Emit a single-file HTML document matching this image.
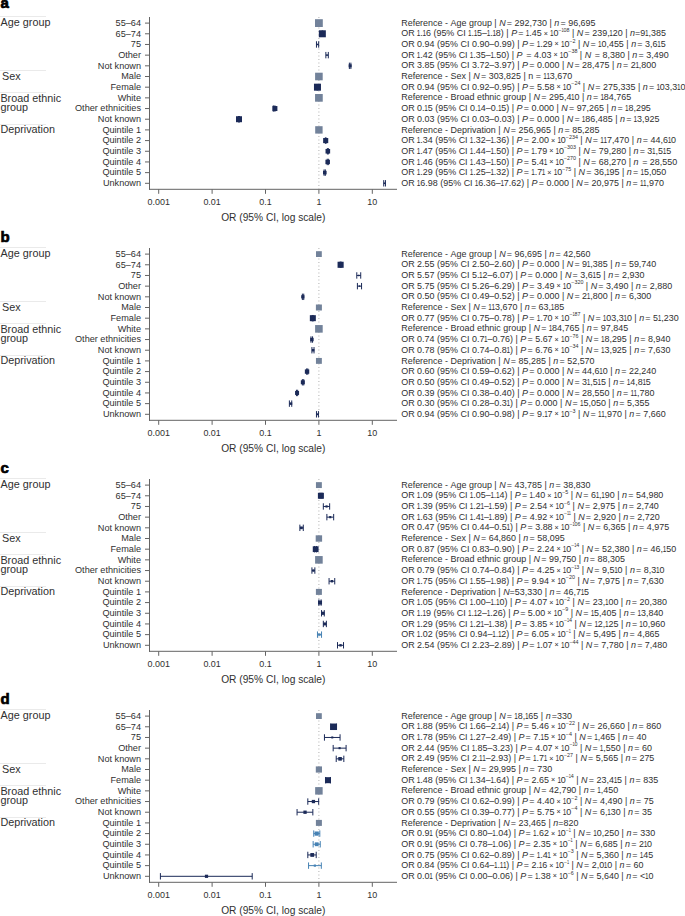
<!DOCTYPE html>
<html><head><meta charset="utf-8"><style>
html,body{margin:0;padding:0;background:#fff;}
svg{display:block;}
text{font-family:"Liberation Sans",sans-serif;white-space:pre;}
</style></head><body>
<svg width="685" height="916" viewBox="0 0 685 916">
<rect width="685" height="916" fill="#fff"/>
<g transform="translate(0,0)">
<text x="0.6" y="7.6" font-size="15" font-weight="bold" fill="#000" stroke="#000" stroke-width="0.7">a</text>
<rect x="0" y="16.15" width="46" height="0.7" fill="#e2e2e2"/>
<text transform="translate(0.6,26.1) scale(1.06,1)" font-size="10.2" fill="#303030">Age group</text>
<rect x="0" y="70.15" width="46" height="0.7" fill="#e2e2e2"/>
<text transform="translate(2.0,79.6) scale(1.06,1)" font-size="10.2" fill="#303030">Sex</text>
<rect x="0" y="92.05000000000001" width="46" height="0.7" fill="#e2e2e2"/>
<text transform="translate(0.4,101.6) scale(1.06,1)" font-size="10.2" fill="#303030">Broad ethnic</text>
<text transform="translate(0.4,111.0) scale(1.06,1)" font-size="10.2" fill="#303030">group</text>
<rect x="0" y="124.05000000000001" width="46" height="0.7" fill="#e2e2e2"/>
<text transform="translate(0.4,133.4) scale(1.06,1)" font-size="10.2" fill="#303030">Deprivation</text>
<rect x="149.0" y="17.0" width="1" height="172.8" fill="#646464"/>
<rect x="149.0" y="188.8" width="248.0" height="1" fill="#646464"/>
<line x1="318.9" y1="17.0" x2="318.9" y2="189.3" stroke="#b0b0b0" stroke-width="1" stroke-dasharray="1 2.5"/>
<rect x="158.2" y="189.3" width="1" height="4.5" fill="#646464"/>
<text transform="translate(158.70,204.7) scale(1.03,1)" font-size="8.7" text-anchor="middle" fill="#303030">0.001</text>
<rect x="211.59999999999997" y="189.3" width="1" height="4.5" fill="#646464"/>
<text transform="translate(212.10,204.7) scale(1.03,1)" font-size="8.7" text-anchor="middle" fill="#303030">0.01</text>
<rect x="265.0" y="189.3" width="1" height="4.5" fill="#646464"/>
<text transform="translate(265.50,204.7) scale(1.03,1)" font-size="8.7" text-anchor="middle" fill="#303030">0.1</text>
<rect x="318.4" y="189.3" width="1" height="4.5" fill="#646464"/>
<text transform="translate(318.90,204.7) scale(1.03,1)" font-size="8.7" text-anchor="middle" fill="#303030">1</text>
<rect x="371.79999999999995" y="189.3" width="1" height="4.5" fill="#646464"/>
<text transform="translate(372.30,204.7) scale(1.03,1)" font-size="8.7" text-anchor="middle" fill="#303030">10</text>
<text x="273.25" y="221.1" font-size="10.2" text-anchor="middle" fill="#303030">OR (95% CI, log scale)</text>
<rect x="145.0" y="22.60" width="4" height="1" fill="#646464"/>
<text transform="translate(141.0,25.90) scale(1.09,1)" font-size="8.4" text-anchor="end" fill="#303030">55–64</text>
<text transform="translate(0,25.70) scale(1.093,1)" x="367.06 372.98 377.55 379.82 384.38 387.11 391.68 396.24 400.34 404.90 407.17 409.90 412.18 417.65 422.21 426.77 429.05 433.61 436.34 440.90 445.46 450.02 452.30 454.43" font-size="8.2" fill="#303030">Reference - Age group | </text>
<text transform="translate(0,25.70) scale(1.093,1)" x="456.71" font-size="8.2" font-style="italic" fill="#303030">N</text>
<text transform="translate(0,25.70) scale(1.093,1)" x="461.44 463.72 468.51 470.79 475.35 479.91 484.47 486.75 491.31 495.87 500.43 502.71 504.84" font-size="8.2" fill="#303030"> = 292,730 | </text>
<text transform="translate(0,25.70) scale(1.093,1)" x="507.12" font-size="8.2" font-style="italic" fill="#303030">n</text>
<text transform="translate(0,25.70) scale(1.093,1)" x="510.49 512.76 517.55 519.83 524.39 528.95 531.23 535.79 540.35" font-size="8.2" fill="#303030"> = 96,695</text>
<rect x="315.00" y="19.20" width="7.8" height="7.8" fill="#72829a"/>
<rect x="145.0" y="33.28" width="4" height="1" fill="#646464"/>
<text transform="translate(141.0,36.58) scale(1.09,1)" font-size="8.4" text-anchor="end" fill="#303030">65–74</text>
<text transform="translate(0,36.38) scale(1.093,1)" x="367.06 373.44 379.36 384.53 389.70 394.26 396.54 399.27 403.83 408.39 415.68 417.96 423.88 426.16 431.33 436.50 441.06 448.51 453.68 458.24 460.97 463.25 465.38" font-size="8.2" fill="#303030">OR .6 (95% CI .5–.8) | </text>
<text transform="translate(0,36.38) scale(1.093,1)" x="467.66" font-size="8.2" font-style="italic" fill="#303030">P</text>
<text transform="translate(0,36.38) scale(1.093,1)" x="471.94 474.22 479.01 484.18 486.45 491.01 495.57 501.27 506.44" font-size="8.2" fill="#303030"> = .45  0</text>
<text transform="translate(0,31.98) scale(1.093,1)" x="511.00 515.59 518.31" font-size="4.9" fill="#303030">−08</text>
<text transform="translate(0,36.38) scale(1.093,1)" x="521.04 523.32 525.45" font-size="8.2" fill="#303030"> | </text>
<text transform="translate(0,36.38) scale(1.093,1)" x="527.72" font-size="8.2" font-style="italic" fill="#303030">N</text>
<text transform="translate(0,36.38) scale(1.093,1)" x="532.46 534.74 539.52 541.80 546.36 550.92 555.48 560.65 565.21 569.77 572.05 574.18" font-size="8.2" fill="#303030"> = 239,20 | </text>
<text transform="translate(0,36.38) scale(1.093,1)" x="576.46" font-size="8.2" font-style="italic" fill="#303030">n</text>
<text transform="translate(0,36.38) scale(1.093,1)" x="581.02 585.81 593.26 595.54 600.10 604.66" font-size="8.2" fill="#303030">=9,385</text>
<text transform="translate(416.84,36.38) scale(0.787,1)" font-size="8.2" fill="#303030">1</text>
<text transform="translate(422.49,36.38) scale(0.787,1)" font-size="8.2" fill="#303030">1</text>
<text transform="translate(467.99,36.38) scale(0.787,1)" font-size="8.2" fill="#303030">1</text>
<text transform="translate(473.64,36.38) scale(0.787,1)" font-size="8.2" fill="#303030">1</text>
<text transform="translate(486.77,36.38) scale(0.787,1)" font-size="8.2" fill="#303030">1</text>
<text transform="translate(492.42,36.38) scale(0.787,1)" font-size="8.2" fill="#303030">1</text>
<text transform="translate(525.75,36.38) scale(0.787,1)" font-size="8.2" fill="#303030">1</text>
<text transform="translate(543.68,35.78) scale(1.093,1)" font-size="6.56" fill="#303030">×</text>
<text transform="translate(550.09,36.38) scale(0.787,1)" font-size="8.2" fill="#303030">1</text>
<text transform="translate(561.48,31.98) scale(0.787,1)" font-size="4.9" fill="#303030">1</text>
<text transform="translate(609.34,36.38) scale(0.787,1)" font-size="8.2" fill="#303030">1</text>
<text transform="translate(644.98,36.38) scale(0.787,1)" font-size="8.2" fill="#303030">1</text>
<rect x="322.14" y="33.28" width="0.60" height="1.0" fill="#1b2a58"/>
<rect x="321.64" y="30.58" width="1" height="6.4" fill="#1b2a58"/>
<rect x="322.24" y="30.58" width="1" height="6.4" fill="#1b2a58"/>
<rect x="318.84" y="30.28" width="7.0" height="7.0" fill="#1b2a58"/>
<rect x="145.0" y="43.96" width="4" height="1" fill="#646464"/>
<text transform="translate(141.0,47.26) scale(1.09,1)" font-size="8.4" text-anchor="end" fill="#303030">75</text>
<text transform="translate(0,47.06) scale(1.093,1)" x="367.06 373.44 379.36 381.64 386.20 388.48 393.04 397.60 399.88 402.61 407.17 411.73 419.02 421.30 427.22 429.50 431.78 436.34 438.62 443.18 447.74 452.30 456.86 459.14 463.70 468.26 470.99 473.27 475.40" font-size="8.2" fill="#303030">OR 0.94 (95% CI 0.90–0.99) | </text>
<text transform="translate(0,47.06) scale(1.093,1)" x="477.68" font-size="8.2" font-style="italic" fill="#303030">P</text>
<text transform="translate(0,47.06) scale(1.093,1)" x="481.95 484.23 489.02 494.19 496.47 501.03 505.59 511.28 516.45" font-size="8.2" fill="#303030"> = .29  0</text>
<text transform="translate(0,42.66) scale(1.093,1)" x="521.01 523.88" font-size="4.9" fill="#303030">−2</text>
<text transform="translate(0,47.06) scale(1.093,1)" x="526.60 528.88 531.01" font-size="8.2" fill="#303030"> | </text>
<text transform="translate(0,47.06) scale(1.093,1)" x="533.29" font-size="8.2" font-style="italic" fill="#303030">N</text>
<text transform="translate(0,47.06) scale(1.093,1)" x="538.02 540.30 545.09 550.26 554.82 557.10 561.66 566.22 570.78 573.05 575.18" font-size="8.2" fill="#303030"> = 0,455 | </text>
<text transform="translate(0,47.06) scale(1.093,1)" x="577.46" font-size="8.2" font-style="italic" fill="#303030">n</text>
<text transform="translate(0,47.06) scale(1.093,1)" x="580.83 583.11 587.90 590.18 594.74 597.02 604.47" font-size="8.2" fill="#303030"> = 3,65</text>
<text transform="translate(536.70,47.06) scale(0.787,1)" font-size="8.2" fill="#303030">1</text>
<text transform="translate(554.62,46.46) scale(1.093,1)" font-size="6.56" fill="#303030">×</text>
<text transform="translate(561.03,47.06) scale(0.787,1)" font-size="8.2" fill="#303030">1</text>
<text transform="translate(597.98,47.06) scale(0.787,1)" font-size="8.2" fill="#303030">1</text>
<text transform="translate(657.23,47.06) scale(0.787,1)" font-size="8.2" fill="#303030">1</text>
<rect x="316.46" y="43.96" width="2.21" height="1.0" fill="#1b2a58"/>
<rect x="315.96" y="41.26" width="1" height="6.4" fill="#1b2a58"/>
<rect x="318.17" y="41.26" width="1" height="6.4" fill="#1b2a58"/>
<rect x="316.72" y="43.71" width="1.5" height="1.5" fill="#1b2a58"/>
<rect x="145.0" y="54.64" width="4" height="1" fill="#646464"/>
<text transform="translate(141.0,57.94) scale(1.09,1)" font-size="8.4" text-anchor="end" fill="#303030">Other</text>
<text transform="translate(0,57.74) scale(1.093,1)" x="367.06 373.44 379.36 384.53 386.81 391.37 395.93 398.21 400.94 405.50 410.06 417.35 419.63 425.55 427.83 433.00 435.28 439.84 444.40 451.85 454.13 458.69 463.25 465.98 468.26 470.39" font-size="8.2" fill="#303030">OR .42 (95% CI .35–.50) | </text>
<text transform="translate(0,57.74) scale(1.093,1)" x="472.67" font-size="8.2" font-style="italic" fill="#303030">P</text>
<text transform="translate(0,57.74) scale(1.093,1)" x="476.95 479.23 481.50 486.29 488.57 493.13 495.41 499.97 504.53 510.22 515.39" font-size="8.2" fill="#303030">  = 4.03  0</text>
<text transform="translate(0,53.34) scale(1.093,1)" x="519.95 522.82 525.54" font-size="4.9" fill="#303030">−38</text>
<text transform="translate(0,57.74) scale(1.093,1)" x="528.27 530.54 532.67" font-size="8.2" fill="#303030"> | </text>
<text transform="translate(0,57.74) scale(1.093,1)" x="534.95" font-size="8.2" font-style="italic" fill="#303030">N</text>
<text transform="translate(0,57.74) scale(1.093,1)" x="539.68 541.96 544.24 549.03 551.31 555.87 558.15 562.71 567.27 571.83 574.11 576.24" font-size="8.2" fill="#303030">  = 8,380 | </text>
<text transform="translate(0,57.74) scale(1.093,1)" x="578.51" font-size="8.2" font-style="italic" fill="#303030">n</text>
<text transform="translate(0,57.74) scale(1.093,1)" x="581.89 584.16 588.95 591.23 595.79 598.07 602.63 607.19" font-size="8.2" fill="#303030"> = 3,490</text>
<text transform="translate(416.84,57.74) scale(0.787,1)" font-size="8.2" fill="#303030">1</text>
<text transform="translate(469.82,57.74) scale(0.787,1)" font-size="8.2" fill="#303030">1</text>
<text transform="translate(490.42,57.74) scale(0.787,1)" font-size="8.2" fill="#303030">1</text>
<text transform="translate(553.46,57.14) scale(1.093,1)" font-size="6.56" fill="#303030">×</text>
<text transform="translate(559.87,57.74) scale(0.787,1)" font-size="8.2" fill="#303030">1</text>
<rect x="325.86" y="54.64" width="2.44" height="1.0" fill="#1b2a58"/>
<rect x="325.36" y="51.94" width="1" height="6.4" fill="#1b2a58"/>
<rect x="327.80" y="51.94" width="1" height="6.4" fill="#1b2a58"/>
<rect x="326.28" y="54.39" width="1.5" height="1.5" fill="#1b2a58"/>
<rect x="145.0" y="65.32" width="4" height="1" fill="#646464"/>
<text transform="translate(141.0,68.62) scale(1.09,1)" font-size="8.4" text-anchor="end" fill="#303030">Not known</text>
<text transform="translate(0,68.42) scale(1.093,1)" x="367.06 373.44 379.36 381.64 386.20 388.48 393.04 397.60 399.88 402.61 407.17 411.73 419.02 421.30 427.22 429.50 431.78 436.34 438.62 443.18 447.74 452.30 456.86 459.14 463.70 468.26 470.99 473.27 475.40" font-size="8.2" fill="#303030">OR 3.85 (95% CI 3.72–3.97) | </text>
<text transform="translate(0,68.42) scale(1.093,1)" x="477.68" font-size="8.2" font-style="italic" fill="#303030">P</text>
<text transform="translate(0,68.42) scale(1.093,1)" x="481.95 484.23 489.02 491.30 495.86 498.14 502.70 507.26 511.82 514.10 516.23" font-size="8.2" fill="#303030"> = 0.000 | </text>
<text transform="translate(0,68.42) scale(1.093,1)" x="518.51" font-size="8.2" font-style="italic" fill="#303030">N</text>
<text transform="translate(0,68.42) scale(1.093,1)" x="523.24 525.52 530.31 532.58 537.14 541.71 543.98 548.54 553.10 557.66 559.94 562.07" font-size="8.2" fill="#303030"> = 28,475 | </text>
<text transform="translate(0,68.42) scale(1.093,1)" x="564.35" font-size="8.2" font-style="italic" fill="#303030">n</text>
<text transform="translate(0,68.42) scale(1.093,1)" x="567.72 570.00 574.79 577.07 584.52 586.80 591.36 595.92" font-size="8.2" fill="#303030"> = 2,800</text>
<text transform="translate(635.43,68.42) scale(0.787,1)" font-size="8.2" fill="#303030">1</text>
<rect x="349.37" y="65.32" width="1.51" height="1.0" fill="#1b2a58"/>
<rect x="348.87" y="62.62" width="1" height="6.4" fill="#1b2a58"/>
<rect x="350.38" y="62.62" width="1" height="6.4" fill="#1b2a58"/>
<rect x="348.66" y="64.32" width="3.0" height="3.0" fill="#1b2a58"/>
<rect x="145.0" y="76.00" width="4" height="1" fill="#646464"/>
<text transform="translate(141.0,79.30) scale(1.09,1)" font-size="8.4" text-anchor="end" fill="#303030">Male</text>
<text transform="translate(0,79.10) scale(1.093,1)" x="367.06 372.98 377.55 379.82 384.38 387.11 391.68 396.24 400.34 404.90 407.17 409.90 412.18 417.65 422.21 426.31 428.59 430.72" font-size="8.2" fill="#303030">Reference - Sex | </text>
<text transform="translate(0,79.10) scale(1.093,1)" x="433.00" font-size="8.2" font-style="italic" fill="#303030">N</text>
<text transform="translate(0,79.10) scale(1.093,1)" x="437.73 440.01 444.80 447.08 451.64 456.20 460.76 463.04 467.60 472.16 476.72 479.00 481.13 483.40 487.96 490.24 495.03 503.09 507.65 509.93 514.49 519.05" font-size="8.2" fill="#303030"> = 303,825 | n = 3,670</text>
<text transform="translate(543.27,79.10) scale(0.787,1)" font-size="8.2" fill="#303030">1</text>
<text transform="translate(546.43,79.10) scale(0.787,1)" font-size="8.2" fill="#303030">1</text>
<rect x="315.10" y="72.70" width="7.6" height="7.6" fill="#72829a"/>
<rect x="145.0" y="86.68" width="4" height="1" fill="#646464"/>
<text transform="translate(141.0,89.98) scale(1.09,1)" font-size="8.4" text-anchor="end" fill="#303030">Female</text>
<text transform="translate(0,89.78) scale(1.093,1)" x="367.06 373.44 379.36 381.64 386.20 388.48 393.04 397.60 399.88 402.61 407.17 411.73 419.02 421.30 427.22 429.50 431.78 436.34 438.62 443.18 447.74 452.30 456.86 459.14 463.70 468.26 470.99 473.27 475.40" font-size="8.2" fill="#303030">OR 0.94 (95% CI 0.92–0.95) | </text>
<text transform="translate(0,89.78) scale(1.093,1)" x="477.68" font-size="8.2" font-style="italic" fill="#303030">P</text>
<text transform="translate(0,89.78) scale(1.093,1)" x="481.95 484.23 489.02 491.30 495.86 498.14 502.70 507.26 512.95 518.12" font-size="8.2" fill="#303030"> = 5.58  0</text>
<text transform="translate(0,85.38) scale(1.093,1)" x="522.68 525.55 528.27" font-size="4.9" fill="#303030">−24</text>
<text transform="translate(0,89.78) scale(1.093,1)" x="531.00 533.27 535.40" font-size="8.2" fill="#303030"> | </text>
<text transform="translate(0,89.78) scale(1.093,1)" x="537.68" font-size="8.2" font-style="italic" fill="#303030">N</text>
<text transform="translate(0,89.78) scale(1.093,1)" x="542.41 544.69 549.48 551.76 556.32 560.88 565.44 567.72 572.28 576.84 581.40 583.68 585.81" font-size="8.2" fill="#303030"> = 275,335 | </text>
<text transform="translate(0,89.78) scale(1.093,1)" x="588.09" font-size="8.2" font-style="italic" fill="#303030">n</text>
<text transform="translate(0,89.78) scale(1.093,1)" x="591.46 593.74 598.53 603.69 608.26 612.82 615.09 622.55" font-size="8.2" fill="#303030"> = 03,30</text>
<text transform="translate(556.45,89.18) scale(1.093,1)" font-size="6.56" fill="#303030">×</text>
<text transform="translate(562.86,89.78) scale(0.787,1)" font-size="8.2" fill="#303030">1</text>
<text transform="translate(656.39,89.78) scale(0.787,1)" font-size="8.2" fill="#303030">1</text>
<text transform="translate(676.99,89.78) scale(0.787,1)" font-size="8.2" fill="#303030">1</text>
<rect x="316.97" y="86.68" width="0.74" height="1.0" fill="#1b2a58"/>
<rect x="316.47" y="83.98" width="1" height="6.4" fill="#1b2a58"/>
<rect x="317.21" y="83.98" width="1" height="6.4" fill="#1b2a58"/>
<rect x="313.97" y="83.68" width="7.0" height="7.0" fill="#1b2a58"/>
<rect x="145.0" y="97.36" width="4" height="1" fill="#646464"/>
<text transform="translate(141.0,100.66) scale(1.09,1)" font-size="8.4" text-anchor="end" fill="#303030">White</text>
<text transform="translate(0,100.46) scale(1.093,1)" x="367.06 372.98 377.55 379.82 384.38 387.11 391.68 396.24 400.34 404.90 407.17 409.90 412.18 417.65 420.38 424.94 429.50 434.06 436.34 440.90 443.18 447.74 452.30 454.12 458.22 460.50 465.06 467.79 472.35 476.91 481.47 483.75 485.88" font-size="8.2" fill="#303030">Reference - Broad ethnic group | </text>
<text transform="translate(0,100.46) scale(1.093,1)" x="488.16" font-size="8.2" font-style="italic" fill="#303030">N</text>
<text transform="translate(0,100.46) scale(1.093,1)" x="492.89 495.17 499.96 502.24 506.80 511.36 515.92 518.20 525.65 530.21 532.49 534.62" font-size="8.2" fill="#303030"> = 295,40 | </text>
<text transform="translate(0,100.46) scale(1.093,1)" x="536.90" font-size="8.2" font-style="italic" fill="#303030">n</text>
<text transform="translate(0,100.46) scale(1.093,1)" x="540.27 542.55 547.33 552.50 557.06 561.63 563.90 568.46 573.02" font-size="8.2" fill="#303030"> = 84,765</text>
<text transform="translate(571.08,100.46) scale(0.787,1)" font-size="8.2" fill="#303030">1</text>
<text transform="translate(600.44,100.46) scale(0.787,1)" font-size="8.2" fill="#303030">1</text>
<rect x="315.05" y="94.01" width="7.7" height="7.7" fill="#72829a"/>
<rect x="145.0" y="108.04" width="4" height="1" fill="#646464"/>
<text transform="translate(141.0,111.34) scale(1.09,1)" font-size="8.4" text-anchor="end" fill="#303030">Other ethnicities</text>
<text transform="translate(0,111.14) scale(1.093,1)" x="367.06 373.44 379.36 381.64 386.20 391.37 395.93 398.21 400.94 405.50 410.06 417.35 419.63 425.55 427.83 430.11 434.67 439.84 444.40 448.96 453.52 458.69 463.25 465.98 468.26 470.39" font-size="8.2" fill="#303030">OR 0.5 (95% CI 0.4–0.5) | </text>
<text transform="translate(0,111.14) scale(1.093,1)" x="472.67" font-size="8.2" font-style="italic" fill="#303030">P</text>
<text transform="translate(0,111.14) scale(1.093,1)" x="476.95 479.23 484.01 486.29 490.85 493.13 497.69 502.25 506.81 509.09 511.22" font-size="8.2" fill="#303030"> = 0.000 | </text>
<text transform="translate(0,111.14) scale(1.093,1)" x="513.50" font-size="8.2" font-style="italic" fill="#303030">N</text>
<text transform="translate(0,111.14) scale(1.093,1)" x="518.23 520.51 525.30 527.58 532.14 536.70 538.98 543.54 548.10 552.66 554.93 557.06" font-size="8.2" fill="#303030"> = 97,265 | </text>
<text transform="translate(0,111.14) scale(1.093,1)" x="559.34" font-size="8.2" font-style="italic" fill="#303030">n</text>
<text transform="translate(0,111.14) scale(1.093,1)" x="562.71 564.99 569.78 574.95 579.51 581.79 586.35 590.91" font-size="8.2" fill="#303030"> = 8,295</text>
<text transform="translate(424.32,111.14) scale(0.787,1)" font-size="8.2" fill="#303030">1</text>
<text transform="translate(477.29,111.14) scale(0.787,1)" font-size="8.2" fill="#303030">1</text>
<text transform="translate(497.90,111.14) scale(0.787,1)" font-size="8.2" fill="#303030">1</text>
<text transform="translate(624.97,111.14) scale(0.787,1)" font-size="8.2" fill="#303030">1</text>
<rect x="273.30" y="108.04" width="1.60" height="1.0" fill="#1b2a58"/>
<rect x="272.80" y="105.34" width="1" height="6.4" fill="#1b2a58"/>
<rect x="274.40" y="105.34" width="1" height="6.4" fill="#1b2a58"/>
<rect x="272.40" y="106.04" width="5.0" height="5.0" fill="#1b2a58"/>
<rect x="145.0" y="118.72" width="4" height="1" fill="#646464"/>
<text transform="translate(141.0,122.02) scale(1.09,1)" font-size="8.4" text-anchor="end" fill="#303030">Not known</text>
<text transform="translate(0,121.82) scale(1.093,1)" x="367.06 373.44 379.36 381.64 386.20 388.48 393.04 397.60 399.88 402.61 407.17 411.73 419.02 421.30 427.22 429.50 431.78 436.34 438.62 443.18 447.74 452.30 456.86 459.14 463.70 468.26 470.99 473.27 475.40" font-size="8.2" fill="#303030">OR 0.03 (95% CI 0.03–0.03) | </text>
<text transform="translate(0,121.82) scale(1.093,1)" x="477.68" font-size="8.2" font-style="italic" fill="#303030">P</text>
<text transform="translate(0,121.82) scale(1.093,1)" x="481.95 484.23 489.02 491.30 495.86 498.14 502.70 507.26 511.82 514.10 516.23" font-size="8.2" fill="#303030"> = 0.000 | </text>
<text transform="translate(0,121.82) scale(1.093,1)" x="518.51" font-size="8.2" font-style="italic" fill="#303030">N</text>
<text transform="translate(0,121.82) scale(1.093,1)" x="523.24 525.52 530.31 535.48 540.04 544.60 546.87 551.43 556.00 560.56 562.83 564.96" font-size="8.2" fill="#303030"> = 86,485 | </text>
<text transform="translate(0,121.82) scale(1.093,1)" x="567.24" font-size="8.2" font-style="italic" fill="#303030">n</text>
<text transform="translate(0,121.82) scale(1.093,1)" x="570.61 572.89 577.68 582.85 587.41 589.69 594.25 598.81" font-size="8.2" fill="#303030"> = 3,925</text>
<text transform="translate(581.82,121.82) scale(0.787,1)" font-size="8.2" fill="#303030">1</text>
<text transform="translate(633.60,121.82) scale(0.787,1)" font-size="8.2" fill="#303030">1</text>
<rect x="238.50" y="118.72" width="1.00" height="1.0" fill="#1b2a58"/>
<rect x="238.00" y="116.02" width="1" height="6.4" fill="#1b2a58"/>
<rect x="239.00" y="116.02" width="1" height="6.4" fill="#1b2a58"/>
<rect x="236.00" y="116.22" width="6.0" height="6.0" fill="#1b2a58"/>
<rect x="145.0" y="129.40" width="4" height="1" fill="#646464"/>
<text transform="translate(141.0,132.70) scale(1.09,1)" font-size="8.4" text-anchor="end" fill="#303030">Quintile 1</text>
<text transform="translate(0,132.50) scale(1.093,1)" x="367.06 372.98 377.55 379.82 384.38 387.11 391.68 396.24 400.34 404.90 407.17 409.90 412.18 418.10 422.67 427.23 429.96 431.78 435.88 440.44 442.72 444.54 449.10 453.66 455.94 458.07" font-size="8.2" fill="#303030">Reference - Deprivation | </text>
<text transform="translate(0,132.50) scale(1.093,1)" x="460.35" font-size="8.2" font-style="italic" fill="#303030">N</text>
<text transform="translate(0,132.50) scale(1.093,1)" x="465.08 467.36 472.15 474.42 478.98 483.54 488.10 490.38 494.94 499.50 504.06 506.34 508.47" font-size="8.2" fill="#303030"> = 256,965 | </text>
<text transform="translate(0,132.50) scale(1.093,1)" x="510.75" font-size="8.2" font-style="italic" fill="#303030">n</text>
<text transform="translate(0,132.50) scale(1.093,1)" x="514.12 516.40 521.19 523.47 528.03 532.59 534.87 539.43 543.99" font-size="8.2" fill="#303030"> = 85,285</text>
<rect x="315.20" y="126.20" width="7.4" height="7.4" fill="#72829a"/>
<rect x="145.0" y="140.08" width="4" height="1" fill="#646464"/>
<text transform="translate(141.0,143.38) scale(1.09,1)" font-size="8.4" text-anchor="end" fill="#303030">Quintile 2</text>
<text transform="translate(0,143.18) scale(1.093,1)" x="367.06 373.44 379.36 384.53 386.81 391.37 395.93 398.21 400.94 405.50 410.06 417.35 419.63 425.55 427.83 433.00 435.28 439.84 444.40 451.85 454.13 458.69 463.25 465.98 468.26 470.39" font-size="8.2" fill="#303030">OR .34 (95% CI .32–.36) | </text>
<text transform="translate(0,143.18) scale(1.093,1)" x="472.67" font-size="8.2" font-style="italic" fill="#303030">P</text>
<text transform="translate(0,143.18) scale(1.093,1)" x="476.95 479.23 484.01 486.29 490.85 493.13 497.69 502.25 507.95 513.12" font-size="8.2" fill="#303030"> = 2.00  0</text>
<text transform="translate(0,138.78) scale(1.093,1)" x="517.68 520.54 523.26 525.99" font-size="4.9" fill="#303030">−234</text>
<text transform="translate(0,143.18) scale(1.093,1)" x="528.71 530.99 533.12" font-size="8.2" fill="#303030"> | </text>
<text transform="translate(0,143.18) scale(1.093,1)" x="535.40" font-size="8.2" font-style="italic" fill="#303030">N</text>
<text transform="translate(0,143.18) scale(1.093,1)" x="540.13 542.41 547.20 555.26 559.82 562.10 566.66 571.22 575.78 578.06 580.19" font-size="8.2" fill="#303030"> = 7,470 | </text>
<text transform="translate(0,143.18) scale(1.093,1)" x="582.47" font-size="8.2" font-style="italic" fill="#303030">n</text>
<text transform="translate(0,143.18) scale(1.093,1)" x="585.84 588.12 592.90 595.18 599.74 604.30 606.58 614.03" font-size="8.2" fill="#303030"> = 44,60</text>
<text transform="translate(416.84,143.18) scale(0.787,1)" font-size="8.2" fill="#303030">1</text>
<text transform="translate(469.82,143.18) scale(0.787,1)" font-size="8.2" fill="#303030">1</text>
<text transform="translate(490.42,143.18) scale(0.787,1)" font-size="8.2" fill="#303030">1</text>
<text transform="translate(550.97,142.58) scale(1.093,1)" font-size="6.56" fill="#303030">×</text>
<text transform="translate(557.38,143.18) scale(0.787,1)" font-size="8.2" fill="#303030">1</text>
<text transform="translate(600.29,143.18) scale(0.787,1)" font-size="8.2" fill="#303030">1</text>
<text transform="translate(603.45,143.18) scale(0.787,1)" font-size="8.2" fill="#303030">1</text>
<text transform="translate(667.69,143.18) scale(0.787,1)" font-size="8.2" fill="#303030">1</text>
<rect x="325.34" y="140.08" width="0.69" height="1.0" fill="#1b2a58"/>
<rect x="324.84" y="137.38" width="1" height="6.4" fill="#1b2a58"/>
<rect x="325.53" y="137.38" width="1" height="6.4" fill="#1b2a58"/>
<rect x="323.14" y="138.03" width="5.1" height="5.1" fill="#1b2a58"/>
<rect x="145.0" y="150.76" width="4" height="1" fill="#646464"/>
<text transform="translate(141.0,154.06) scale(1.09,1)" font-size="8.4" text-anchor="end" fill="#303030">Quintile 3</text>
<text transform="translate(0,153.86) scale(1.093,1)" x="367.06 373.44 379.36 384.53 386.81 391.37 395.93 398.21 400.94 405.50 410.06 417.35 419.63 425.55 427.83 433.00 435.28 439.84 444.40 451.85 454.13 458.69 463.25 465.98 468.26 470.39" font-size="8.2" fill="#303030">OR .47 (95% CI .44–.50) | </text>
<text transform="translate(0,153.86) scale(1.093,1)" x="472.67" font-size="8.2" font-style="italic" fill="#303030">P</text>
<text transform="translate(0,153.86) scale(1.093,1)" x="476.95 479.23 484.01 489.18 491.46 496.02 500.58 506.28 511.45" font-size="8.2" fill="#303030"> = .79  0</text>
<text transform="translate(0,149.46) scale(1.093,1)" x="516.01 518.87 521.59 524.32" font-size="4.9" fill="#303030">−303</text>
<text transform="translate(0,153.86) scale(1.093,1)" x="527.04 529.32 531.45" font-size="8.2" fill="#303030"> | </text>
<text transform="translate(0,153.86) scale(1.093,1)" x="533.73" font-size="8.2" font-style="italic" fill="#303030">N</text>
<text transform="translate(0,153.86) scale(1.093,1)" x="538.46 540.74 545.53 547.81 552.37 556.93 559.21 563.77 568.33 572.89 575.17 577.30" font-size="8.2" fill="#303030"> = 79,280 | </text>
<text transform="translate(0,153.86) scale(1.093,1)" x="579.57" font-size="8.2" font-style="italic" fill="#303030">n</text>
<text transform="translate(0,153.86) scale(1.093,1)" x="582.95 585.22 590.01 592.29 599.74 602.02 609.47" font-size="8.2" fill="#303030"> = 3,55</text>
<text transform="translate(416.84,153.86) scale(0.787,1)" font-size="8.2" fill="#303030">1</text>
<text transform="translate(469.82,153.86) scale(0.787,1)" font-size="8.2" fill="#303030">1</text>
<text transform="translate(490.42,153.86) scale(0.787,1)" font-size="8.2" fill="#303030">1</text>
<text transform="translate(531.23,153.86) scale(0.787,1)" font-size="8.2" fill="#303030">1</text>
<text transform="translate(549.15,153.26) scale(1.093,1)" font-size="6.56" fill="#303030">×</text>
<text transform="translate(555.56,153.86) scale(0.787,1)" font-size="8.2" fill="#303030">1</text>
<text transform="translate(652.07,153.86) scale(0.787,1)" font-size="8.2" fill="#303030">1</text>
<text transform="translate(662.70,153.86) scale(0.787,1)" font-size="8.2" fill="#303030">1</text>
<rect x="327.36" y="150.76" width="0.95" height="1.0" fill="#1b2a58"/>
<rect x="326.86" y="148.06" width="1" height="6.4" fill="#1b2a58"/>
<rect x="327.80" y="148.06" width="1" height="6.4" fill="#1b2a58"/>
<rect x="325.53" y="148.96" width="4.6" height="4.6" fill="#1b2a58"/>
<rect x="145.0" y="161.44" width="4" height="1" fill="#646464"/>
<text transform="translate(141.0,164.74) scale(1.09,1)" font-size="8.4" text-anchor="end" fill="#303030">Quintile 4</text>
<text transform="translate(0,164.54) scale(1.093,1)" x="367.06 373.44 379.36 384.53 386.81 391.37 395.93 398.21 400.94 405.50 410.06 417.35 419.63 425.55 427.83 433.00 435.28 439.84 444.40 451.85 454.13 458.69 463.25 465.98 468.26 470.39" font-size="8.2" fill="#303030">OR .46 (95% CI .43–.50) | </text>
<text transform="translate(0,164.54) scale(1.093,1)" x="472.67" font-size="8.2" font-style="italic" fill="#303030">P</text>
<text transform="translate(0,164.54) scale(1.093,1)" x="476.95 479.23 484.01 486.29 490.85 493.13 500.58 506.28 511.45" font-size="8.2" fill="#303030"> = 5.4  0</text>
<text transform="translate(0,160.14) scale(1.093,1)" x="516.01 518.87 521.59 524.32" font-size="4.9" fill="#303030">−270</text>
<text transform="translate(0,164.54) scale(1.093,1)" x="527.04 529.32 531.45" font-size="8.2" fill="#303030"> | </text>
<text transform="translate(0,164.54) scale(1.093,1)" x="533.73" font-size="8.2" font-style="italic" fill="#303030">N</text>
<text transform="translate(0,164.54) scale(1.093,1)" x="538.46 540.74 545.53 547.81 552.37 556.93 559.21 563.77 568.33 572.89 575.17 577.30" font-size="8.2" fill="#303030"> = 68,270 | </text>
<text transform="translate(0,164.54) scale(1.093,1)" x="579.57" font-size="8.2" font-style="italic" fill="#303030">n</text>
<text transform="translate(0,164.54) scale(1.093,1)" x="582.95 585.22 587.50 592.29 594.57 599.13 603.69 605.97 610.53 615.09" font-size="8.2" fill="#303030">  = 28,550</text>
<text transform="translate(416.84,164.54) scale(0.787,1)" font-size="8.2" fill="#303030">1</text>
<text transform="translate(469.82,164.54) scale(0.787,1)" font-size="8.2" fill="#303030">1</text>
<text transform="translate(490.42,164.54) scale(0.787,1)" font-size="8.2" fill="#303030">1</text>
<text transform="translate(543.69,164.54) scale(0.787,1)" font-size="8.2" fill="#303030">1</text>
<text transform="translate(549.15,163.94) scale(1.093,1)" font-size="6.56" fill="#303030">×</text>
<text transform="translate(555.56,164.54) scale(0.787,1)" font-size="8.2" fill="#303030">1</text>
<rect x="327.19" y="161.44" width="1.11" height="1.0" fill="#1b2a58"/>
<rect x="326.69" y="158.74" width="1" height="6.4" fill="#1b2a58"/>
<rect x="327.80" y="158.74" width="1" height="6.4" fill="#1b2a58"/>
<rect x="325.43" y="159.69" width="4.5" height="4.5" fill="#1b2a58"/>
<rect x="145.0" y="172.12" width="4" height="1" fill="#646464"/>
<text transform="translate(141.0,175.42) scale(1.09,1)" font-size="8.4" text-anchor="end" fill="#303030">Quintile 5</text>
<text transform="translate(0,175.22) scale(1.093,1)" x="367.06 373.44 379.36 384.53 386.81 391.37 395.93 398.21 400.94 405.50 410.06 417.35 419.63 425.55 427.83 433.00 435.28 439.84 444.40 451.85 454.13 458.69 463.25 465.98 468.26 470.39" font-size="8.2" fill="#303030">OR .29 (95% CI .25–.32) | </text>
<text transform="translate(0,175.22) scale(1.093,1)" x="472.67" font-size="8.2" font-style="italic" fill="#303030">P</text>
<text transform="translate(0,175.22) scale(1.093,1)" x="476.95 479.23 484.01 489.18 491.46 498.91 504.61 509.78" font-size="8.2" fill="#303030"> = .7  0</text>
<text transform="translate(0,170.82) scale(1.093,1)" x="514.34 517.20 519.92" font-size="4.9" fill="#303030">−75</text>
<text transform="translate(0,175.22) scale(1.093,1)" x="522.65 524.93 527.06" font-size="8.2" fill="#303030"> | </text>
<text transform="translate(0,175.22) scale(1.093,1)" x="529.34" font-size="8.2" font-style="italic" fill="#303030">N</text>
<text transform="translate(0,175.22) scale(1.093,1)" x="534.07 536.35 541.14 543.41 547.97 552.53 557.70 562.26 566.82 569.10 571.23" font-size="8.2" fill="#303030"> = 36,95 | </text>
<text transform="translate(0,175.22) scale(1.093,1)" x="573.51" font-size="8.2" font-style="italic" fill="#303030">n</text>
<text transform="translate(0,175.22) scale(1.093,1)" x="576.88 579.16 583.95 589.12 593.68 595.96 600.52 605.08" font-size="8.2" fill="#303030"> = 5,050</text>
<text transform="translate(416.84,175.22) scale(0.787,1)" font-size="8.2" fill="#303030">1</text>
<text transform="translate(469.82,175.22) scale(0.787,1)" font-size="8.2" fill="#303030">1</text>
<text transform="translate(490.42,175.22) scale(0.787,1)" font-size="8.2" fill="#303030">1</text>
<text transform="translate(531.23,175.22) scale(0.787,1)" font-size="8.2" fill="#303030">1</text>
<text transform="translate(541.86,175.22) scale(0.787,1)" font-size="8.2" fill="#303030">1</text>
<text transform="translate(547.33,174.62) scale(1.093,1)" font-size="6.56" fill="#303030">×</text>
<text transform="translate(553.73,175.22) scale(0.787,1)" font-size="8.2" fill="#303030">1</text>
<text transform="translate(606.12,175.22) scale(0.787,1)" font-size="8.2" fill="#303030">1</text>
<text transform="translate(640.45,175.22) scale(0.787,1)" font-size="8.2" fill="#303030">1</text>
<rect x="324.07" y="172.12" width="1.26" height="1.0" fill="#1b2a58"/>
<rect x="323.57" y="169.42" width="1" height="6.4" fill="#1b2a58"/>
<rect x="324.84" y="169.42" width="1" height="6.4" fill="#1b2a58"/>
<rect x="323.01" y="170.82" width="3.6" height="3.6" fill="#1b2a58"/>
<rect x="145.0" y="182.80" width="4" height="1" fill="#646464"/>
<text transform="translate(141.0,186.10) scale(1.09,1)" font-size="8.4" text-anchor="end" fill="#303030">Unknown</text>
<text transform="translate(0,185.90) scale(1.093,1)" x="367.06 373.44 379.36 384.53 389.09 391.37 395.93 400.49 402.77 405.50 410.06 414.62 421.91 424.19 430.11 432.39 437.56 442.12 444.40 448.96 453.52 460.97 465.53 467.81 472.37 476.93 479.66 481.94 484.07" font-size="8.2" fill="#303030">OR 6.98 (95% CI 6.36–7.62) | </text>
<text transform="translate(0,185.90) scale(1.093,1)" x="486.35" font-size="8.2" font-style="italic" fill="#303030">P</text>
<text transform="translate(0,185.90) scale(1.093,1)" x="490.63 492.91 497.70 499.97 504.53 506.81 511.37 515.93 520.49 522.77 524.90" font-size="8.2" fill="#303030"> = 0.000 | </text>
<text transform="translate(0,185.90) scale(1.093,1)" x="527.18" font-size="8.2" font-style="italic" fill="#303030">N</text>
<text transform="translate(0,185.90) scale(1.093,1)" x="531.91 534.19 538.98 541.26 545.82 550.38 552.66 557.22 561.78 566.34 568.62 570.75" font-size="8.2" fill="#303030"> = 20,975 | </text>
<text transform="translate(0,185.90) scale(1.093,1)" x="573.02" font-size="8.2" font-style="italic" fill="#303030">n</text>
<text transform="translate(0,185.90) scale(1.093,1)" x="576.40 578.67 583.46 591.52 593.80 598.36 602.92" font-size="8.2" fill="#303030"> = ,970</text>
<text transform="translate(416.84,185.90) scale(0.787,1)" font-size="8.2" fill="#303030">1</text>
<text transform="translate(474.80,185.90) scale(0.787,1)" font-size="8.2" fill="#303030">1</text>
<text transform="translate(500.39,185.90) scale(0.787,1)" font-size="8.2" fill="#303030">1</text>
<text transform="translate(639.92,185.90) scale(0.787,1)" font-size="8.2" fill="#303030">1</text>
<text transform="translate(643.08,185.90) scale(0.787,1)" font-size="8.2" fill="#303030">1</text>
<rect x="383.72" y="182.80" width="1.72" height="1.0" fill="#1b2a58"/>
<rect x="383.22" y="180.10" width="1" height="6.4" fill="#1b2a58"/>
<rect x="384.94" y="180.10" width="1" height="6.4" fill="#1b2a58"/>
<rect x="383.83" y="182.55" width="1.5" height="1.5" fill="#1b2a58"/>
</g>
<g transform="translate(0,231)">
<text x="0.6" y="11.2" font-size="15" font-weight="bold" fill="#000" stroke="#000" stroke-width="0.7">b</text>
<rect x="0" y="16.15" width="46" height="0.7" fill="#e2e2e2"/>
<text transform="translate(0.6,26.1) scale(1.06,1)" font-size="10.2" fill="#303030">Age group</text>
<rect x="0" y="70.15" width="46" height="0.7" fill="#e2e2e2"/>
<text transform="translate(2.0,79.6) scale(1.06,1)" font-size="10.2" fill="#303030">Sex</text>
<rect x="0" y="92.05000000000001" width="46" height="0.7" fill="#e2e2e2"/>
<text transform="translate(0.4,101.6) scale(1.06,1)" font-size="10.2" fill="#303030">Broad ethnic</text>
<text transform="translate(0.4,111.0) scale(1.06,1)" font-size="10.2" fill="#303030">group</text>
<rect x="0" y="124.05000000000001" width="46" height="0.7" fill="#e2e2e2"/>
<text transform="translate(0.4,133.4) scale(1.06,1)" font-size="10.2" fill="#303030">Deprivation</text>
<rect x="149.0" y="17.0" width="1" height="172.8" fill="#646464"/>
<rect x="149.0" y="188.8" width="248.0" height="1" fill="#646464"/>
<line x1="318.9" y1="17.0" x2="318.9" y2="189.3" stroke="#b0b0b0" stroke-width="1" stroke-dasharray="1 2.5"/>
<rect x="158.2" y="189.3" width="1" height="4.5" fill="#646464"/>
<text transform="translate(158.70,204.7) scale(1.03,1)" font-size="8.7" text-anchor="middle" fill="#303030">0.001</text>
<rect x="211.59999999999997" y="189.3" width="1" height="4.5" fill="#646464"/>
<text transform="translate(212.10,204.7) scale(1.03,1)" font-size="8.7" text-anchor="middle" fill="#303030">0.01</text>
<rect x="265.0" y="189.3" width="1" height="4.5" fill="#646464"/>
<text transform="translate(265.50,204.7) scale(1.03,1)" font-size="8.7" text-anchor="middle" fill="#303030">0.1</text>
<rect x="318.4" y="189.3" width="1" height="4.5" fill="#646464"/>
<text transform="translate(318.90,204.7) scale(1.03,1)" font-size="8.7" text-anchor="middle" fill="#303030">1</text>
<rect x="371.79999999999995" y="189.3" width="1" height="4.5" fill="#646464"/>
<text transform="translate(372.30,204.7) scale(1.03,1)" font-size="8.7" text-anchor="middle" fill="#303030">10</text>
<text x="273.25" y="221.1" font-size="10.2" text-anchor="middle" fill="#303030">OR (95% CI, log scale)</text>
<rect x="145.0" y="22.60" width="4" height="1" fill="#646464"/>
<text transform="translate(141.0,25.90) scale(1.09,1)" font-size="8.4" text-anchor="end" fill="#303030">55–64</text>
<text transform="translate(0,25.70) scale(1.093,1)" x="367.06 372.98 377.55 379.82 384.38 387.11 391.68 396.24 400.34 404.90 407.17 409.90 412.18 417.65 422.21 426.77 429.05 433.61 436.34 440.90 445.46 450.02 452.30 454.43" font-size="8.2" fill="#303030">Reference - Age group | </text>
<text transform="translate(0,25.70) scale(1.093,1)" x="456.71" font-size="8.2" font-style="italic" fill="#303030">N</text>
<text transform="translate(0,25.70) scale(1.093,1)" x="461.44 463.72 468.51 470.79 475.35 479.91 482.19 486.75 491.31 495.87 498.15 500.28" font-size="8.2" fill="#303030"> = 96,695 | </text>
<text transform="translate(0,25.70) scale(1.093,1)" x="502.56" font-size="8.2" font-style="italic" fill="#303030">n</text>
<text transform="translate(0,25.70) scale(1.093,1)" x="505.93 508.20 512.99 515.27 519.83 524.39 526.67 531.23 535.79" font-size="8.2" fill="#303030"> = 42,560</text>
<rect x="316.00" y="20.20" width="5.8" height="5.8" fill="#72829a"/>
<rect x="145.0" y="33.28" width="4" height="1" fill="#646464"/>
<text transform="translate(141.0,36.58) scale(1.09,1)" font-size="8.4" text-anchor="end" fill="#303030">65–74</text>
<text transform="translate(0,36.38) scale(1.093,1)" x="367.06 373.44 379.36 381.64 386.20 388.48 393.04 397.60 399.88 402.61 407.17 411.73 419.02 421.30 427.22 429.50 431.78 436.34 438.62 443.18 447.74 452.30 456.86 459.14 463.70 468.26 470.99 473.27 475.40" font-size="8.2" fill="#303030">OR 2.55 (95% CI 2.50–2.60) | </text>
<text transform="translate(0,36.38) scale(1.093,1)" x="477.68" font-size="8.2" font-style="italic" fill="#303030">P</text>
<text transform="translate(0,36.38) scale(1.093,1)" x="481.95 484.23 489.02 491.30 495.86 498.14 502.70 507.26 511.82 514.10 516.23" font-size="8.2" fill="#303030"> = 0.000 | </text>
<text transform="translate(0,36.38) scale(1.093,1)" x="518.51" font-size="8.2" font-style="italic" fill="#303030">N</text>
<text transform="translate(0,36.38) scale(1.093,1)" x="523.24 525.52 530.31 532.58 540.04 542.31 546.87 551.43 556.00 558.27 560.40" font-size="8.2" fill="#303030"> = 9,385 | </text>
<text transform="translate(0,36.38) scale(1.093,1)" x="562.68" font-size="8.2" font-style="italic" fill="#303030">n</text>
<text transform="translate(0,36.38) scale(1.093,1)" x="566.05 568.33 573.12 575.40 579.96 584.52 586.80 591.36 595.92" font-size="8.2" fill="#303030"> = 59,740</text>
<text transform="translate(586.81,36.38) scale(0.787,1)" font-size="8.2" fill="#303030">1</text>
<rect x="340.15" y="33.28" width="0.91" height="1.0" fill="#1b2a58"/>
<rect x="339.65" y="30.58" width="1" height="6.4" fill="#1b2a58"/>
<rect x="340.56" y="30.58" width="1" height="6.4" fill="#1b2a58"/>
<rect x="337.56" y="30.73" width="6.1" height="6.1" fill="#1b2a58"/>
<rect x="145.0" y="43.96" width="4" height="1" fill="#646464"/>
<text transform="translate(141.0,47.26) scale(1.09,1)" font-size="8.4" text-anchor="end" fill="#303030">75</text>
<text transform="translate(0,47.06) scale(1.093,1)" x="367.06 373.44 379.36 381.64 386.20 388.48 393.04 397.60 399.88 402.61 407.17 411.73 419.02 421.30 427.22 429.50 431.78 436.34 441.51 446.07 450.63 455.19 457.47 462.03 466.59 469.32 471.60 473.73" font-size="8.2" fill="#303030">OR 5.57 (95% CI 5.2–6.07) | </text>
<text transform="translate(0,47.06) scale(1.093,1)" x="476.01" font-size="8.2" font-style="italic" fill="#303030">P</text>
<text transform="translate(0,47.06) scale(1.093,1)" x="480.29 482.56 487.35 489.63 494.19 496.47 501.03 505.59 510.15 512.43 514.56" font-size="8.2" fill="#303030"> = 0.000 | </text>
<text transform="translate(0,47.06) scale(1.093,1)" x="516.84" font-size="8.2" font-style="italic" fill="#303030">N</text>
<text transform="translate(0,47.06) scale(1.093,1)" x="521.57 523.85 528.64 530.91 535.48 537.75 545.21 549.77 552.04 554.17" font-size="8.2" fill="#303030"> = 3,65 | </text>
<text transform="translate(0,47.06) scale(1.093,1)" x="556.45" font-size="8.2" font-style="italic" fill="#303030">n</text>
<text transform="translate(0,47.06) scale(1.093,1)" x="559.82 562.10 566.89 569.17 573.73 576.01 580.57 585.13" font-size="8.2" fill="#303030"> = 2,930</text>
<text transform="translate(479.12,47.06) scale(0.787,1)" font-size="8.2" fill="#303030">1</text>
<text transform="translate(592.46,47.06) scale(0.787,1)" font-size="8.2" fill="#303030">1</text>
<rect x="356.78" y="43.96" width="3.95" height="1.0" fill="#1b2a58"/>
<rect x="356.28" y="41.26" width="1" height="6.4" fill="#1b2a58"/>
<rect x="360.22" y="41.26" width="1" height="6.4" fill="#1b2a58"/>
<rect x="357.98" y="43.71" width="1.5" height="1.5" fill="#1b2a58"/>
<rect x="145.0" y="54.64" width="4" height="1" fill="#646464"/>
<text transform="translate(141.0,57.94) scale(1.09,1)" font-size="8.4" text-anchor="end" fill="#303030">Other</text>
<text transform="translate(0,57.74) scale(1.093,1)" x="367.06 373.44 379.36 381.64 386.20 388.48 393.04 397.60 399.88 402.61 407.17 411.73 419.02 421.30 427.22 429.50 431.78 436.34 438.62 443.18 447.74 452.30 456.86 459.14 463.70 468.26 470.99 473.27 475.40" font-size="8.2" fill="#303030">OR 5.75 (95% CI 5.26–6.29) | </text>
<text transform="translate(0,57.74) scale(1.093,1)" x="477.68" font-size="8.2" font-style="italic" fill="#303030">P</text>
<text transform="translate(0,57.74) scale(1.093,1)" x="481.95 484.23 489.02 491.30 495.86 498.14 502.70 507.26 512.95 518.12" font-size="8.2" fill="#303030"> = 3.49  0</text>
<text transform="translate(0,53.34) scale(1.093,1)" x="522.68 525.55 528.27 531.00" font-size="4.9" fill="#303030">−320</text>
<text transform="translate(0,57.74) scale(1.093,1)" x="533.72 536.00 538.13" font-size="8.2" fill="#303030"> | </text>
<text transform="translate(0,57.74) scale(1.093,1)" x="540.41" font-size="8.2" font-style="italic" fill="#303030">N</text>
<text transform="translate(0,57.74) scale(1.093,1)" x="545.14 547.42 552.21 554.48 559.05 561.32 565.88 570.44 575.01 577.28 579.41" font-size="8.2" fill="#303030"> = 3,490 | </text>
<text transform="translate(0,57.74) scale(1.093,1)" x="581.69" font-size="8.2" font-style="italic" fill="#303030">n</text>
<text transform="translate(0,57.74) scale(1.093,1)" x="585.06 587.34 592.13 594.41 598.97 601.25 605.81 610.37" font-size="8.2" fill="#303030"> = 2,880</text>
<text transform="translate(556.45,57.14) scale(1.093,1)" font-size="6.56" fill="#303030">×</text>
<text transform="translate(562.86,57.74) scale(0.787,1)" font-size="8.2" fill="#303030">1</text>
<rect x="357.40" y="54.64" width="4.15" height="1.0" fill="#1b2a58"/>
<rect x="356.90" y="51.94" width="1" height="6.4" fill="#1b2a58"/>
<rect x="361.05" y="51.94" width="1" height="6.4" fill="#1b2a58"/>
<rect x="358.72" y="54.39" width="1.5" height="1.5" fill="#1b2a58"/>
<rect x="145.0" y="65.32" width="4" height="1" fill="#646464"/>
<text transform="translate(141.0,68.62) scale(1.09,1)" font-size="8.4" text-anchor="end" fill="#303030">Not known</text>
<text transform="translate(0,68.42) scale(1.093,1)" x="367.06 373.44 379.36 381.64 386.20 388.48 393.04 397.60 399.88 402.61 407.17 411.73 419.02 421.30 427.22 429.50 431.78 436.34 438.62 443.18 447.74 452.30 456.86 459.14 463.70 468.26 470.99 473.27 475.40" font-size="8.2" fill="#303030">OR 0.50 (95% CI 0.49–0.52) | </text>
<text transform="translate(0,68.42) scale(1.093,1)" x="477.68" font-size="8.2" font-style="italic" fill="#303030">P</text>
<text transform="translate(0,68.42) scale(1.093,1)" x="481.95 484.23 489.02 491.30 495.86 498.14 502.70 507.26 511.82 514.10 516.23" font-size="8.2" fill="#303030"> = 0.000 | </text>
<text transform="translate(0,68.42) scale(1.093,1)" x="518.51" font-size="8.2" font-style="italic" fill="#303030">N</text>
<text transform="translate(0,68.42) scale(1.093,1)" x="523.24 525.52 530.31 532.58 540.04 542.31 546.87 551.43 556.00 558.27 560.40" font-size="8.2" fill="#303030"> = 2,800 | </text>
<text transform="translate(0,68.42) scale(1.093,1)" x="562.68" font-size="8.2" font-style="italic" fill="#303030">n</text>
<text transform="translate(0,68.42) scale(1.093,1)" x="566.05 568.33 573.12 575.40 579.96 582.24 586.80 591.36" font-size="8.2" fill="#303030"> = 6,300</text>
<text transform="translate(586.81,68.42) scale(0.787,1)" font-size="8.2" fill="#303030">1</text>
<rect x="302.36" y="65.32" width="1.38" height="1.0" fill="#1b2a58"/>
<rect x="301.86" y="62.62" width="1" height="6.4" fill="#1b2a58"/>
<rect x="303.23" y="62.62" width="1" height="6.4" fill="#1b2a58"/>
<rect x="301.22" y="64.22" width="3.2" height="3.2" fill="#1b2a58"/>
<rect x="145.0" y="76.00" width="4" height="1" fill="#646464"/>
<text transform="translate(141.0,79.30) scale(1.09,1)" font-size="8.4" text-anchor="end" fill="#303030">Male</text>
<text transform="translate(0,79.10) scale(1.093,1)" x="367.06 372.98 377.55 379.82 384.38 387.11 391.68 396.24 400.34 404.90 407.17 409.90 412.18 417.65 422.21 426.31 428.59 430.72" font-size="8.2" fill="#303030">Reference - Sex | </text>
<text transform="translate(0,79.10) scale(1.093,1)" x="433.00" font-size="8.2" font-style="italic" fill="#303030">N</text>
<text transform="translate(0,79.10) scale(1.093,1)" x="437.73 440.01 444.80 452.86 457.42 459.70 464.26 468.82 473.38 475.66 477.79" font-size="8.2" fill="#303030"> = 3,670 | </text>
<text transform="translate(0,79.10) scale(1.093,1)" x="480.07" font-size="8.2" font-style="italic" fill="#303030">n</text>
<text transform="translate(0,79.10) scale(1.093,1)" x="483.44 485.72 490.50 492.78 497.34 501.90 507.07 511.63" font-size="8.2" fill="#303030"> = 63,85</text>
<text transform="translate(488.36,79.10) scale(0.787,1)" font-size="8.2" fill="#303030">1</text>
<text transform="translate(491.52,79.10) scale(0.787,1)" font-size="8.2" fill="#303030">1</text>
<text transform="translate(550.78,79.10) scale(0.787,1)" font-size="8.2" fill="#303030">1</text>
<rect x="315.90" y="73.50" width="6.0" height="6.0" fill="#72829a"/>
<rect x="145.0" y="86.68" width="4" height="1" fill="#646464"/>
<text transform="translate(141.0,89.98) scale(1.09,1)" font-size="8.4" text-anchor="end" fill="#303030">Female</text>
<text transform="translate(0,89.78) scale(1.093,1)" x="367.06 373.44 379.36 381.64 386.20 388.48 393.04 397.60 399.88 402.61 407.17 411.73 419.02 421.30 427.22 429.50 431.78 436.34 438.62 443.18 447.74 452.30 456.86 459.14 463.70 468.26 470.99 473.27 475.40" font-size="8.2" fill="#303030">OR 0.77 (95% CI 0.75–0.78) | </text>
<text transform="translate(0,89.78) scale(1.093,1)" x="477.68" font-size="8.2" font-style="italic" fill="#303030">P</text>
<text transform="translate(0,89.78) scale(1.093,1)" x="481.95 484.23 489.02 494.19 496.47 501.03 505.59 511.28 516.45" font-size="8.2" fill="#303030"> = .70  0</text>
<text transform="translate(0,85.38) scale(1.093,1)" x="521.01 525.60 528.33" font-size="4.9" fill="#303030">−87</text>
<text transform="translate(0,89.78) scale(1.093,1)" x="531.05 533.33 535.46" font-size="8.2" fill="#303030"> | </text>
<text transform="translate(0,89.78) scale(1.093,1)" x="537.74" font-size="8.2" font-style="italic" fill="#303030">N</text>
<text transform="translate(0,89.78) scale(1.093,1)" x="542.47 544.75 549.54 554.71 559.27 563.83 566.11 573.56 578.12 580.40 582.53" font-size="8.2" fill="#303030"> = 03,30 | </text>
<text transform="translate(0,89.78) scale(1.093,1)" x="584.81" font-size="8.2" font-style="italic" fill="#303030">n</text>
<text transform="translate(0,89.78) scale(1.093,1)" x="588.18 590.46 595.24 597.52 604.97 607.25 611.81 616.37" font-size="8.2" fill="#303030"> = 5,230</text>
<text transform="translate(536.70,89.78) scale(0.787,1)" font-size="8.2" fill="#303030">1</text>
<text transform="translate(554.62,89.18) scale(1.093,1)" font-size="6.56" fill="#303030">×</text>
<text transform="translate(561.03,89.78) scale(0.787,1)" font-size="8.2" fill="#303030">1</text>
<text transform="translate(572.42,85.38) scale(0.787,1)" font-size="4.9" fill="#303030">1</text>
<text transform="translate(602.85,89.78) scale(0.787,1)" font-size="8.2" fill="#303030">1</text>
<text transform="translate(623.45,89.78) scale(0.787,1)" font-size="8.2" fill="#303030">1</text>
<text transform="translate(657.79,89.78) scale(0.787,1)" font-size="8.2" fill="#303030">1</text>
<rect x="312.23" y="86.68" width="0.91" height="1.0" fill="#1b2a58"/>
<rect x="311.73" y="83.98" width="1" height="6.4" fill="#1b2a58"/>
<rect x="312.64" y="83.98" width="1" height="6.4" fill="#1b2a58"/>
<rect x="309.84" y="84.18" width="6.0" height="6.0" fill="#1b2a58"/>
<rect x="145.0" y="97.36" width="4" height="1" fill="#646464"/>
<text transform="translate(141.0,100.66) scale(1.09,1)" font-size="8.4" text-anchor="end" fill="#303030">White</text>
<text transform="translate(0,100.46) scale(1.093,1)" x="367.06 372.98 377.55 379.82 384.38 387.11 391.68 396.24 400.34 404.90 407.17 409.90 412.18 417.65 420.38 424.94 429.50 434.06 436.34 440.90 443.18 447.74 452.30 454.12 458.22 460.50 465.06 467.79 472.35 476.91 481.47 483.75 485.88" font-size="8.2" fill="#303030">Reference - Broad ethnic group | </text>
<text transform="translate(0,100.46) scale(1.093,1)" x="488.16" font-size="8.2" font-style="italic" fill="#303030">N</text>
<text transform="translate(0,100.46) scale(1.093,1)" x="492.89 495.17 499.96 505.13 509.69 514.25 516.53 521.09 525.65 530.21 532.49 534.62" font-size="8.2" fill="#303030"> = 84,765 | </text>
<text transform="translate(0,100.46) scale(1.093,1)" x="536.90" font-size="8.2" font-style="italic" fill="#303030">n</text>
<text transform="translate(0,100.46) scale(1.093,1)" x="540.27 542.55 547.33 549.61 554.17 558.73 561.01 565.57 570.13" font-size="8.2" fill="#303030"> = 97,845</text>
<text transform="translate(548.66,100.46) scale(0.787,1)" font-size="8.2" fill="#303030">1</text>
<rect x="315.10" y="94.06" width="7.6" height="7.6" fill="#72829a"/>
<rect x="145.0" y="108.04" width="4" height="1" fill="#646464"/>
<text transform="translate(141.0,111.34) scale(1.09,1)" font-size="8.4" text-anchor="end" fill="#303030">Other ethnicities</text>
<text transform="translate(0,111.14) scale(1.093,1)" x="367.06 373.44 379.36 381.64 386.20 388.48 393.04 397.60 399.88 402.61 407.17 411.73 419.02 421.30 427.22 429.50 431.78 436.34 438.62 446.07 450.63 455.19 457.47 462.03 466.59 469.32 471.60 473.73" font-size="8.2" fill="#303030">OR 0.74 (95% CI 0.7–0.76) | </text>
<text transform="translate(0,111.14) scale(1.093,1)" x="476.01" font-size="8.2" font-style="italic" fill="#303030">P</text>
<text transform="translate(0,111.14) scale(1.093,1)" x="480.29 482.56 487.35 489.63 494.19 496.47 501.03 505.59 511.28 516.45" font-size="8.2" fill="#303030"> = 5.67  0</text>
<text transform="translate(0,106.74) scale(1.093,1)" x="521.01 523.88 526.60" font-size="4.9" fill="#303030">−76</text>
<text transform="translate(0,111.14) scale(1.093,1)" x="529.33 531.60 533.73" font-size="8.2" fill="#303030"> | </text>
<text transform="translate(0,111.14) scale(1.093,1)" x="536.01" font-size="8.2" font-style="italic" fill="#303030">N</text>
<text transform="translate(0,111.14) scale(1.093,1)" x="540.75 543.02 547.81 552.98 557.54 559.82 564.38 568.94 573.50 575.78 577.91" font-size="8.2" fill="#303030"> = 8,295 | </text>
<text transform="translate(0,111.14) scale(1.093,1)" x="580.19" font-size="8.2" font-style="italic" fill="#303030">n</text>
<text transform="translate(0,111.14) scale(1.093,1)" x="583.56 585.84 590.63 592.90 597.46 599.74 604.30 608.86" font-size="8.2" fill="#303030"> = 8,940</text>
<text transform="translate(484.10,111.14) scale(0.787,1)" font-size="8.2" fill="#303030">1</text>
<text transform="translate(554.62,110.54) scale(1.093,1)" font-size="6.56" fill="#303030">×</text>
<text transform="translate(561.03,111.14) scale(0.787,1)" font-size="8.2" fill="#303030">1</text>
<text transform="translate(600.96,111.14) scale(0.787,1)" font-size="8.2" fill="#303030">1</text>
<rect x="310.96" y="108.04" width="1.58" height="1.0" fill="#1b2a58"/>
<rect x="310.46" y="105.34" width="1" height="6.4" fill="#1b2a58"/>
<rect x="312.04" y="105.34" width="1" height="6.4" fill="#1b2a58"/>
<rect x="310.22" y="106.84" width="3.4" height="3.4" fill="#1b2a58"/>
<rect x="145.0" y="118.72" width="4" height="1" fill="#646464"/>
<text transform="translate(141.0,122.02) scale(1.09,1)" font-size="8.4" text-anchor="end" fill="#303030">Not known</text>
<text transform="translate(0,121.82) scale(1.093,1)" x="367.06 373.44 379.36 381.64 386.20 388.48 393.04 397.60 399.88 402.61 407.17 411.73 419.02 421.30 427.22 429.50 431.78 436.34 438.62 443.18 447.74 452.30 456.86 459.14 466.59 469.32 471.60 473.73" font-size="8.2" fill="#303030">OR 0.78 (95% CI 0.74–0.8) | </text>
<text transform="translate(0,121.82) scale(1.093,1)" x="476.01" font-size="8.2" font-style="italic" fill="#303030">P</text>
<text transform="translate(0,121.82) scale(1.093,1)" x="480.29 482.56 487.35 489.63 494.19 496.47 501.03 505.59 511.28 516.45" font-size="8.2" fill="#303030"> = 6.76  0</text>
<text transform="translate(0,117.42) scale(1.093,1)" x="521.01 523.88 526.60" font-size="4.9" fill="#303030">−34</text>
<text transform="translate(0,121.82) scale(1.093,1)" x="529.33 531.60 533.73" font-size="8.2" fill="#303030"> | </text>
<text transform="translate(0,121.82) scale(1.093,1)" x="536.01" font-size="8.2" font-style="italic" fill="#303030">N</text>
<text transform="translate(0,121.82) scale(1.093,1)" x="540.75 543.02 547.81 552.98 557.54 559.82 564.38 568.94 573.50 575.78 577.91" font-size="8.2" fill="#303030"> = 3,925 | </text>
<text transform="translate(0,121.82) scale(1.093,1)" x="580.19" font-size="8.2" font-style="italic" fill="#303030">n</text>
<text transform="translate(0,121.82) scale(1.093,1)" x="583.56 585.84 590.63 592.90 597.46 599.74 604.30 608.86" font-size="8.2" fill="#303030"> = 7,630</text>
<text transform="translate(506.53,121.82) scale(0.787,1)" font-size="8.2" fill="#303030">1</text>
<text transform="translate(554.62,121.22) scale(1.093,1)" font-size="6.56" fill="#303030">×</text>
<text transform="translate(561.03,121.82) scale(0.787,1)" font-size="8.2" fill="#303030">1</text>
<text transform="translate(600.96,121.82) scale(0.787,1)" font-size="8.2" fill="#303030">1</text>
<rect x="311.92" y="118.72" width="2.10" height="1.0" fill="#1b2a58"/>
<rect x="311.42" y="116.02" width="1" height="6.4" fill="#1b2a58"/>
<rect x="313.51" y="116.02" width="1" height="6.4" fill="#1b2a58"/>
<rect x="311.89" y="117.97" width="2.5" height="2.5" fill="#1b2a58"/>
<rect x="145.0" y="129.40" width="4" height="1" fill="#646464"/>
<text transform="translate(141.0,132.70) scale(1.09,1)" font-size="8.4" text-anchor="end" fill="#303030">Quintile 1</text>
<text transform="translate(0,132.50) scale(1.093,1)" x="367.06 372.98 377.55 379.82 384.38 387.11 391.68 396.24 400.34 404.90 407.17 409.90 412.18 418.10 422.67 427.23 429.96 431.78 435.88 440.44 442.72 444.54 449.10 453.66 455.94 458.07" font-size="8.2" fill="#303030">Reference - Deprivation | </text>
<text transform="translate(0,132.50) scale(1.093,1)" x="460.35" font-size="8.2" font-style="italic" fill="#303030">N</text>
<text transform="translate(0,132.50) scale(1.093,1)" x="465.08 467.36 472.15 474.42 478.98 483.54 485.82 490.38 494.94 499.50 501.78 503.91" font-size="8.2" fill="#303030"> = 85,285 | </text>
<text transform="translate(0,132.50) scale(1.093,1)" x="506.19" font-size="8.2" font-style="italic" fill="#303030">n</text>
<text transform="translate(0,132.50) scale(1.093,1)" x="509.56 511.84 516.63 518.91 523.47 528.03 530.31 534.87 539.43" font-size="8.2" fill="#303030"> = 52,570</text>
<rect x="315.95" y="126.95" width="5.9" height="5.9" fill="#72829a"/>
<rect x="145.0" y="140.08" width="4" height="1" fill="#646464"/>
<text transform="translate(141.0,143.38) scale(1.09,1)" font-size="8.4" text-anchor="end" fill="#303030">Quintile 2</text>
<text transform="translate(0,143.18) scale(1.093,1)" x="367.06 373.44 379.36 381.64 386.20 388.48 393.04 397.60 399.88 402.61 407.17 411.73 419.02 421.30 427.22 429.50 431.78 436.34 438.62 443.18 447.74 452.30 456.86 459.14 463.70 468.26 470.99 473.27 475.40" font-size="8.2" fill="#303030">OR 0.60 (95% CI 0.59–0.62) | </text>
<text transform="translate(0,143.18) scale(1.093,1)" x="477.68" font-size="8.2" font-style="italic" fill="#303030">P</text>
<text transform="translate(0,143.18) scale(1.093,1)" x="481.95 484.23 489.02 491.30 495.86 498.14 502.70 507.26 511.82 514.10 516.23" font-size="8.2" fill="#303030"> = 0.000 | </text>
<text transform="translate(0,143.18) scale(1.093,1)" x="518.51" font-size="8.2" font-style="italic" fill="#303030">N</text>
<text transform="translate(0,143.18) scale(1.093,1)" x="523.24 525.52 530.31 532.58 537.14 541.71 543.98 551.43 556.00 558.27 560.40" font-size="8.2" fill="#303030"> = 44,60 | </text>
<text transform="translate(0,143.18) scale(1.093,1)" x="562.68" font-size="8.2" font-style="italic" fill="#303030">n</text>
<text transform="translate(0,143.18) scale(1.093,1)" x="566.05 568.33 573.12 575.40 579.96 584.52 586.80 591.36 595.92" font-size="8.2" fill="#303030"> = 22,240</text>
<text transform="translate(599.27,143.18) scale(0.787,1)" font-size="8.2" fill="#303030">1</text>
<rect x="306.66" y="140.08" width="1.15" height="1.0" fill="#1b2a58"/>
<rect x="306.16" y="137.38" width="1" height="6.4" fill="#1b2a58"/>
<rect x="307.31" y="137.38" width="1" height="6.4" fill="#1b2a58"/>
<rect x="304.85" y="138.38" width="4.4" height="4.4" fill="#1b2a58"/>
<rect x="145.0" y="150.76" width="4" height="1" fill="#646464"/>
<text transform="translate(141.0,154.06) scale(1.09,1)" font-size="8.4" text-anchor="end" fill="#303030">Quintile 3</text>
<text transform="translate(0,153.86) scale(1.093,1)" x="367.06 373.44 379.36 381.64 386.20 388.48 393.04 397.60 399.88 402.61 407.17 411.73 419.02 421.30 427.22 429.50 431.78 436.34 438.62 443.18 447.74 452.30 456.86 459.14 463.70 468.26 470.99 473.27 475.40" font-size="8.2" fill="#303030">OR 0.50 (95% CI 0.49–0.52) | </text>
<text transform="translate(0,153.86) scale(1.093,1)" x="477.68" font-size="8.2" font-style="italic" fill="#303030">P</text>
<text transform="translate(0,153.86) scale(1.093,1)" x="481.95 484.23 489.02 491.30 495.86 498.14 502.70 507.26 511.82 514.10 516.23" font-size="8.2" fill="#303030"> = 0.000 | </text>
<text transform="translate(0,153.86) scale(1.093,1)" x="518.51" font-size="8.2" font-style="italic" fill="#303030">N</text>
<text transform="translate(0,153.86) scale(1.093,1)" x="523.24 525.52 530.31 532.58 540.04 542.31 549.77 554.33 556.60 558.73" font-size="8.2" fill="#303030"> = 3,55 | </text>
<text transform="translate(0,153.86) scale(1.093,1)" x="561.01" font-size="8.2" font-style="italic" fill="#303030">n</text>
<text transform="translate(0,153.86) scale(1.093,1)" x="564.38 566.66 571.45 576.62 581.18 583.46 590.91" font-size="8.2" fill="#303030"> = 4,85</text>
<text transform="translate(586.81,153.86) scale(0.787,1)" font-size="8.2" fill="#303030">1</text>
<text transform="translate(597.44,153.86) scale(0.787,1)" font-size="8.2" fill="#303030">1</text>
<text transform="translate(626.79,153.86) scale(0.787,1)" font-size="8.2" fill="#303030">1</text>
<text transform="translate(642.41,153.86) scale(0.787,1)" font-size="8.2" fill="#303030">1</text>
<rect x="302.36" y="150.76" width="1.38" height="1.0" fill="#1b2a58"/>
<rect x="301.86" y="148.06" width="1" height="6.4" fill="#1b2a58"/>
<rect x="303.23" y="148.06" width="1" height="6.4" fill="#1b2a58"/>
<rect x="300.82" y="149.26" width="4.0" height="4.0" fill="#1b2a58"/>
<rect x="145.0" y="161.44" width="4" height="1" fill="#646464"/>
<text transform="translate(141.0,164.74) scale(1.09,1)" font-size="8.4" text-anchor="end" fill="#303030">Quintile 4</text>
<text transform="translate(0,164.54) scale(1.093,1)" x="367.06 373.44 379.36 381.64 386.20 388.48 393.04 397.60 399.88 402.61 407.17 411.73 419.02 421.30 427.22 429.50 431.78 436.34 438.62 443.18 447.74 452.30 456.86 459.14 463.70 468.26 470.99 473.27 475.40" font-size="8.2" fill="#303030">OR 0.39 (95% CI 0.38–0.40) | </text>
<text transform="translate(0,164.54) scale(1.093,1)" x="477.68" font-size="8.2" font-style="italic" fill="#303030">P</text>
<text transform="translate(0,164.54) scale(1.093,1)" x="481.95 484.23 489.02 491.30 495.86 498.14 502.70 507.26 511.82 514.10 516.23" font-size="8.2" fill="#303030"> = 0.000 | </text>
<text transform="translate(0,164.54) scale(1.093,1)" x="518.51" font-size="8.2" font-style="italic" fill="#303030">N</text>
<text transform="translate(0,164.54) scale(1.093,1)" x="523.24 525.52 530.31 532.58 537.14 541.71 543.98 548.54 553.10 557.66 559.94 562.07" font-size="8.2" fill="#303030"> = 28,550 | </text>
<text transform="translate(0,164.54) scale(1.093,1)" x="564.35" font-size="8.2" font-style="italic" fill="#303030">n</text>
<text transform="translate(0,164.54) scale(1.093,1)" x="567.72 570.00 574.79 582.85 585.13 589.69 594.25" font-size="8.2" fill="#303030"> = ,780</text>
<text transform="translate(630.44,164.54) scale(0.787,1)" font-size="8.2" fill="#303030">1</text>
<text transform="translate(633.60,164.54) scale(0.787,1)" font-size="8.2" fill="#303030">1</text>
<rect x="296.46" y="161.44" width="1.19" height="1.0" fill="#1b2a58"/>
<rect x="295.96" y="158.74" width="1" height="6.4" fill="#1b2a58"/>
<rect x="297.15" y="158.74" width="1" height="6.4" fill="#1b2a58"/>
<rect x="295.06" y="159.94" width="4.0" height="4.0" fill="#1b2a58"/>
<rect x="145.0" y="172.12" width="4" height="1" fill="#646464"/>
<text transform="translate(141.0,175.42) scale(1.09,1)" font-size="8.4" text-anchor="end" fill="#303030">Quintile 5</text>
<text transform="translate(0,175.22) scale(1.093,1)" x="367.06 373.44 379.36 381.64 386.20 388.48 393.04 397.60 399.88 402.61 407.17 411.73 419.02 421.30 427.22 429.50 431.78 436.34 438.62 443.18 447.74 452.30 456.86 459.14 466.59 469.32 471.60 473.73" font-size="8.2" fill="#303030">OR 0.30 (95% CI 0.28–0.3) | </text>
<text transform="translate(0,175.22) scale(1.093,1)" x="476.01" font-size="8.2" font-style="italic" fill="#303030">P</text>
<text transform="translate(0,175.22) scale(1.093,1)" x="480.29 482.56 487.35 489.63 494.19 496.47 501.03 505.59 510.15 512.43 514.56" font-size="8.2" fill="#303030"> = 0.000 | </text>
<text transform="translate(0,175.22) scale(1.093,1)" x="516.84" font-size="8.2" font-style="italic" fill="#303030">N</text>
<text transform="translate(0,175.22) scale(1.093,1)" x="521.57 523.85 528.64 533.81 538.37 540.64 545.21 549.77 554.33 556.60 558.73" font-size="8.2" fill="#303030"> = 5,050 | </text>
<text transform="translate(0,175.22) scale(1.093,1)" x="561.01" font-size="8.2" font-style="italic" fill="#303030">n</text>
<text transform="translate(0,175.22) scale(1.093,1)" x="564.38 566.66 571.45 573.73 578.29 580.57 585.13 589.69" font-size="8.2" fill="#303030"> = 5,355</text>
<text transform="translate(506.53,175.22) scale(0.787,1)" font-size="8.2" fill="#303030">1</text>
<text transform="translate(580.00,175.22) scale(0.787,1)" font-size="8.2" fill="#303030">1</text>
<rect x="289.38" y="172.12" width="2.36" height="1.0" fill="#1b2a58"/>
<rect x="288.88" y="169.42" width="1" height="6.4" fill="#1b2a58"/>
<rect x="291.24" y="169.42" width="1" height="6.4" fill="#1b2a58"/>
<rect x="289.73" y="171.37" width="2.5" height="2.5" fill="#1b2a58"/>
<rect x="145.0" y="182.80" width="4" height="1" fill="#646464"/>
<text transform="translate(141.0,186.10) scale(1.09,1)" font-size="8.4" text-anchor="end" fill="#303030">Unknown</text>
<text transform="translate(0,185.90) scale(1.093,1)" x="367.06 373.44 379.36 381.64 386.20 388.48 393.04 397.60 399.88 402.61 407.17 411.73 419.02 421.30 427.22 429.50 431.78 436.34 438.62 443.18 447.74 452.30 456.86 459.14 463.70 468.26 470.99 473.27 475.40" font-size="8.2" fill="#303030">OR 0.94 (95% CI 0.90–0.98) | </text>
<text transform="translate(0,185.90) scale(1.093,1)" x="477.68" font-size="8.2" font-style="italic" fill="#303030">P</text>
<text transform="translate(0,185.90) scale(1.093,1)" x="481.95 484.23 489.02 491.30 495.86 501.03 505.59 511.28 516.45" font-size="8.2" fill="#303030"> = 9.7  0</text>
<text transform="translate(0,181.50) scale(1.093,1)" x="521.01 523.88" font-size="4.9" fill="#303030">−3</text>
<text transform="translate(0,185.90) scale(1.093,1)" x="526.60 528.88 531.01" font-size="8.2" fill="#303030"> | </text>
<text transform="translate(0,185.90) scale(1.093,1)" x="533.29" font-size="8.2" font-style="italic" fill="#303030">N</text>
<text transform="translate(0,185.90) scale(1.093,1)" x="538.02 540.30 545.09 553.15 555.43 559.99 564.55 569.11 571.39 573.52" font-size="8.2" fill="#303030"> = ,970 | </text>
<text transform="translate(0,185.90) scale(1.093,1)" x="575.79" font-size="8.2" font-style="italic" fill="#303030">n</text>
<text transform="translate(0,185.90) scale(1.093,1)" x="579.16 581.44 586.23 588.51 593.07 595.35 599.91 604.47" font-size="8.2" fill="#303030"> = 7,660</text>
<text transform="translate(544.17,185.90) scale(0.787,1)" font-size="8.2" fill="#303030">1</text>
<text transform="translate(554.62,185.30) scale(1.093,1)" font-size="6.56" fill="#303030">×</text>
<text transform="translate(561.03,185.90) scale(0.787,1)" font-size="8.2" fill="#303030">1</text>
<text transform="translate(597.98,185.90) scale(0.787,1)" font-size="8.2" fill="#303030">1</text>
<text transform="translate(601.14,185.90) scale(0.787,1)" font-size="8.2" fill="#303030">1</text>
<rect x="316.46" y="182.80" width="1.97" height="1.0" fill="#1b2a58"/>
<rect x="315.96" y="180.10" width="1" height="6.4" fill="#1b2a58"/>
<rect x="317.93" y="180.10" width="1" height="6.4" fill="#1b2a58"/>
<rect x="316.57" y="182.40" width="1.8" height="1.8" fill="#1b2a58"/>
</g>
<g transform="translate(0,462)">
<text x="0.6" y="10.6" font-size="15" font-weight="bold" fill="#000" stroke="#000" stroke-width="0.7">c</text>
<rect x="0" y="16.15" width="46" height="0.7" fill="#e2e2e2"/>
<text transform="translate(0.6,26.1) scale(1.06,1)" font-size="10.2" fill="#303030">Age group</text>
<rect x="0" y="70.15" width="46" height="0.7" fill="#e2e2e2"/>
<text transform="translate(2.0,79.6) scale(1.06,1)" font-size="10.2" fill="#303030">Sex</text>
<rect x="0" y="92.05000000000001" width="46" height="0.7" fill="#e2e2e2"/>
<text transform="translate(0.4,101.6) scale(1.06,1)" font-size="10.2" fill="#303030">Broad ethnic</text>
<text transform="translate(0.4,111.0) scale(1.06,1)" font-size="10.2" fill="#303030">group</text>
<rect x="0" y="124.05000000000001" width="46" height="0.7" fill="#e2e2e2"/>
<text transform="translate(0.4,133.4) scale(1.06,1)" font-size="10.2" fill="#303030">Deprivation</text>
<rect x="149.0" y="17.0" width="1" height="172.8" fill="#646464"/>
<rect x="149.0" y="188.8" width="248.0" height="1" fill="#646464"/>
<line x1="318.9" y1="17.0" x2="318.9" y2="189.3" stroke="#b0b0b0" stroke-width="1" stroke-dasharray="1 2.5"/>
<rect x="158.2" y="189.3" width="1" height="4.5" fill="#646464"/>
<text transform="translate(158.70,204.7) scale(1.03,1)" font-size="8.7" text-anchor="middle" fill="#303030">0.001</text>
<rect x="211.59999999999997" y="189.3" width="1" height="4.5" fill="#646464"/>
<text transform="translate(212.10,204.7) scale(1.03,1)" font-size="8.7" text-anchor="middle" fill="#303030">0.01</text>
<rect x="265.0" y="189.3" width="1" height="4.5" fill="#646464"/>
<text transform="translate(265.50,204.7) scale(1.03,1)" font-size="8.7" text-anchor="middle" fill="#303030">0.1</text>
<rect x="318.4" y="189.3" width="1" height="4.5" fill="#646464"/>
<text transform="translate(318.90,204.7) scale(1.03,1)" font-size="8.7" text-anchor="middle" fill="#303030">1</text>
<rect x="371.79999999999995" y="189.3" width="1" height="4.5" fill="#646464"/>
<text transform="translate(372.30,204.7) scale(1.03,1)" font-size="8.7" text-anchor="middle" fill="#303030">10</text>
<text x="273.25" y="221.1" font-size="10.2" text-anchor="middle" fill="#303030">OR (95% CI, log scale)</text>
<rect x="145.0" y="22.60" width="4" height="1" fill="#646464"/>
<text transform="translate(141.0,25.90) scale(1.09,1)" font-size="8.4" text-anchor="end" fill="#303030">55–64</text>
<text transform="translate(0,25.70) scale(1.093,1)" x="367.06 372.98 377.55 379.82 384.38 387.11 391.68 396.24 400.34 404.90 407.17 409.90 412.18 417.65 422.21 426.77 429.05 433.61 436.34 440.90 445.46 450.02 452.30 454.43" font-size="8.2" fill="#303030">Reference - Age group | </text>
<text transform="translate(0,25.70) scale(1.093,1)" x="456.71" font-size="8.2" font-style="italic" fill="#303030">N</text>
<text transform="translate(0,25.70) scale(1.093,1)" x="461.44 463.72 468.51 470.79 475.35 479.91 482.19 486.75 491.31 495.87 498.15 500.28" font-size="8.2" fill="#303030"> = 43,785 | </text>
<text transform="translate(0,25.70) scale(1.093,1)" x="502.56" font-size="8.2" font-style="italic" fill="#303030">n</text>
<text transform="translate(0,25.70) scale(1.093,1)" x="505.93 508.20 512.99 515.27 519.83 524.39 526.67 531.23 535.79" font-size="8.2" fill="#303030"> = 38,830</text>
<rect x="315.95" y="20.15" width="5.9" height="5.9" fill="#72829a"/>
<rect x="145.0" y="33.28" width="4" height="1" fill="#646464"/>
<text transform="translate(141.0,36.58) scale(1.09,1)" font-size="8.4" text-anchor="end" fill="#303030">65–74</text>
<text transform="translate(0,36.38) scale(1.093,1)" x="367.06 373.44 379.36 384.53 386.81 391.37 395.93 398.21 400.94 405.50 410.06 417.35 419.63 425.55 427.83 433.00 435.28 439.84 444.40 451.85 457.02 461.58 464.31 466.59 468.72" font-size="8.2" fill="#303030">OR .09 (95% CI .05–.4) | </text>
<text transform="translate(0,36.38) scale(1.093,1)" x="471.00" font-size="8.2" font-style="italic" fill="#303030">P</text>
<text transform="translate(0,36.38) scale(1.093,1)" x="475.28 477.56 482.34 487.51 489.79 494.35 498.91 504.61 509.78" font-size="8.2" fill="#303030"> = .40  0</text>
<text transform="translate(0,31.98) scale(1.093,1)" x="514.34 517.20" font-size="4.9" fill="#303030">−5</text>
<text transform="translate(0,36.38) scale(1.093,1)" x="519.92 522.20 524.33" font-size="8.2" fill="#303030"> | </text>
<text transform="translate(0,36.38) scale(1.093,1)" x="526.61" font-size="8.2" font-style="italic" fill="#303030">N</text>
<text transform="translate(0,36.38) scale(1.093,1)" x="531.34 533.62 538.41 540.69 548.14 553.31 557.87 562.43 564.71 566.84" font-size="8.2" fill="#303030"> = 6,90 | </text>
<text transform="translate(0,36.38) scale(1.093,1)" x="569.12" font-size="8.2" font-style="italic" fill="#303030">n</text>
<text transform="translate(0,36.38) scale(1.093,1)" x="572.49 574.77 579.55 581.83 586.39 590.95 593.23 597.79 602.35" font-size="8.2" fill="#303030"> = 54,980</text>
<text transform="translate(416.84,36.38) scale(0.787,1)" font-size="8.2" fill="#303030">1</text>
<text transform="translate(469.82,36.38) scale(0.787,1)" font-size="8.2" fill="#303030">1</text>
<text transform="translate(490.42,36.38) scale(0.787,1)" font-size="8.2" fill="#303030">1</text>
<text transform="translate(496.07,36.38) scale(0.787,1)" font-size="8.2" fill="#303030">1</text>
<text transform="translate(529.40,36.38) scale(0.787,1)" font-size="8.2" fill="#303030">1</text>
<text transform="translate(547.33,35.78) scale(1.093,1)" font-size="6.56" fill="#303030">×</text>
<text transform="translate(553.73,36.38) scale(0.787,1)" font-size="8.2" fill="#303030">1</text>
<text transform="translate(595.67,36.38) scale(0.787,1)" font-size="8.2" fill="#303030">1</text>
<text transform="translate(601.32,36.38) scale(0.787,1)" font-size="8.2" fill="#303030">1</text>
<rect x="320.03" y="33.28" width="1.91" height="1.0" fill="#1b2a58"/>
<rect x="319.53" y="30.58" width="1" height="6.4" fill="#1b2a58"/>
<rect x="321.44" y="30.58" width="1" height="6.4" fill="#1b2a58"/>
<rect x="317.90" y="30.78" width="6.0" height="6.0" fill="#1b2a58"/>
<rect x="145.0" y="43.96" width="4" height="1" fill="#646464"/>
<text transform="translate(141.0,47.26) scale(1.09,1)" font-size="8.4" text-anchor="end" fill="#303030">75</text>
<text transform="translate(0,47.06) scale(1.093,1)" x="367.06 373.44 379.36 384.53 386.81 391.37 395.93 398.21 400.94 405.50 410.06 417.35 419.63 425.55 427.83 433.00 435.28 442.73 450.18 452.46 457.02 461.58 464.31 466.59 468.72" font-size="8.2" fill="#303030">OR .39 (95% CI .2–.59) | </text>
<text transform="translate(0,47.06) scale(1.093,1)" x="471.00" font-size="8.2" font-style="italic" fill="#303030">P</text>
<text transform="translate(0,47.06) scale(1.093,1)" x="475.28 477.56 482.34 484.62 489.18 491.46 496.02 500.58 506.28 511.45" font-size="8.2" fill="#303030"> = 2.54  0</text>
<text transform="translate(0,42.66) scale(1.093,1)" x="516.01 518.87" font-size="4.9" fill="#303030">−6</text>
<text transform="translate(0,47.06) scale(1.093,1)" x="521.59 523.87 526.00" font-size="8.2" fill="#303030"> | </text>
<text transform="translate(0,47.06) scale(1.093,1)" x="528.28" font-size="8.2" font-style="italic" fill="#303030">N</text>
<text transform="translate(0,47.06) scale(1.093,1)" x="533.01 535.29 540.08 542.36 546.92 549.20 553.76 558.32 562.88 565.16 567.29" font-size="8.2" fill="#303030"> = 2,975 | </text>
<text transform="translate(0,47.06) scale(1.093,1)" x="569.56" font-size="8.2" font-style="italic" fill="#303030">n</text>
<text transform="translate(0,47.06) scale(1.093,1)" x="572.94 575.21 580.00 582.28 586.84 589.12 593.68 598.24" font-size="8.2" fill="#303030"> = 2,740</text>
<text transform="translate(416.84,47.06) scale(0.787,1)" font-size="8.2" fill="#303030">1</text>
<text transform="translate(469.82,47.06) scale(0.787,1)" font-size="8.2" fill="#303030">1</text>
<text transform="translate(480.45,47.06) scale(0.787,1)" font-size="8.2" fill="#303030">1</text>
<text transform="translate(488.60,47.06) scale(0.787,1)" font-size="8.2" fill="#303030">1</text>
<text transform="translate(549.15,46.46) scale(1.093,1)" font-size="6.56" fill="#303030">×</text>
<text transform="translate(555.56,47.06) scale(0.787,1)" font-size="8.2" fill="#303030">1</text>
<rect x="323.32" y="43.96" width="6.33" height="1.0" fill="#1b2a58"/>
<rect x="322.82" y="41.26" width="1" height="6.4" fill="#1b2a58"/>
<rect x="329.15" y="41.26" width="1" height="6.4" fill="#1b2a58"/>
<rect x="325.44" y="43.36" width="2.2" height="2.2" fill="#1b2a58"/>
<rect x="145.0" y="54.64" width="4" height="1" fill="#646464"/>
<text transform="translate(141.0,57.94) scale(1.09,1)" font-size="8.4" text-anchor="end" fill="#303030">Other</text>
<text transform="translate(0,57.74) scale(1.093,1)" x="367.06 373.44 379.36 384.53 386.81 391.37 395.93 398.21 400.94 405.50 410.06 417.35 419.63 425.55 427.83 433.00 435.28 442.73 450.18 452.46 457.02 461.58 464.31 466.59 468.72" font-size="8.2" fill="#303030">OR .63 (95% CI .4–.89) | </text>
<text transform="translate(0,57.74) scale(1.093,1)" x="471.00" font-size="8.2" font-style="italic" fill="#303030">P</text>
<text transform="translate(0,57.74) scale(1.093,1)" x="475.28 477.56 482.34 484.62 489.18 491.46 496.02 500.58 506.28 511.45" font-size="8.2" fill="#303030"> = 4.92  0</text>
<text transform="translate(0,53.34) scale(1.093,1)" x="516.01" font-size="4.9" fill="#303030">−</text>
<text transform="translate(0,57.74) scale(1.093,1)" x="522.32 524.60 526.73" font-size="8.2" fill="#303030"> | </text>
<text transform="translate(0,57.74) scale(1.093,1)" x="529.01" font-size="8.2" font-style="italic" fill="#303030">N</text>
<text transform="translate(0,57.74) scale(1.093,1)" x="533.74 536.02 540.81 543.09 547.65 549.93 554.49 559.05 563.61 565.89 568.02" font-size="8.2" fill="#303030"> = 2,920 | </text>
<text transform="translate(0,57.74) scale(1.093,1)" x="570.29" font-size="8.2" font-style="italic" fill="#303030">n</text>
<text transform="translate(0,57.74) scale(1.093,1)" x="573.67 575.94 580.73 583.01 587.57 589.85 594.41 598.97" font-size="8.2" fill="#303030"> = 2,720</text>
<text transform="translate(416.84,57.74) scale(0.787,1)" font-size="8.2" fill="#303030">1</text>
<text transform="translate(469.82,57.74) scale(0.787,1)" font-size="8.2" fill="#303030">1</text>
<text transform="translate(480.45,57.74) scale(0.787,1)" font-size="8.2" fill="#303030">1</text>
<text transform="translate(488.60,57.74) scale(0.787,1)" font-size="8.2" fill="#303030">1</text>
<text transform="translate(549.15,57.14) scale(1.093,1)" font-size="6.56" fill="#303030">×</text>
<text transform="translate(555.56,57.74) scale(0.787,1)" font-size="8.2" fill="#303030">1</text>
<text transform="translate(566.95,53.34) scale(0.787,1)" font-size="4.9" fill="#303030">1</text>
<text transform="translate(568.84,53.34) scale(0.787,1)" font-size="4.9" fill="#303030">1</text>
<rect x="326.87" y="54.64" width="6.79" height="1.0" fill="#1b2a58"/>
<rect x="326.37" y="51.94" width="1" height="6.4" fill="#1b2a58"/>
<rect x="333.16" y="51.94" width="1" height="6.4" fill="#1b2a58"/>
<rect x="329.13" y="54.04" width="2.2" height="2.2" fill="#1b2a58"/>
<rect x="145.0" y="65.32" width="4" height="1" fill="#646464"/>
<text transform="translate(141.0,68.62) scale(1.09,1)" font-size="8.4" text-anchor="end" fill="#303030">Not known</text>
<text transform="translate(0,68.42) scale(1.093,1)" x="367.06 373.44 379.36 381.64 386.20 388.48 393.04 397.60 399.88 402.61 407.17 411.73 419.02 421.30 427.22 429.50 431.78 436.34 438.62 443.18 447.74 452.30 456.86 459.14 466.59 469.32 471.60 473.73" font-size="8.2" fill="#303030">OR 0.47 (95% CI 0.44–0.5) | </text>
<text transform="translate(0,68.42) scale(1.093,1)" x="476.01" font-size="8.2" font-style="italic" fill="#303030">P</text>
<text transform="translate(0,68.42) scale(1.093,1)" x="480.29 482.56 487.35 489.63 494.19 496.47 501.03 505.59 511.28 516.45" font-size="8.2" fill="#303030"> = 3.88  0</text>
<text transform="translate(0,64.02) scale(1.093,1)" x="521.01 525.60 528.33" font-size="4.9" fill="#303030">−06</text>
<text transform="translate(0,68.42) scale(1.093,1)" x="531.05 533.33 535.46" font-size="8.2" fill="#303030"> | </text>
<text transform="translate(0,68.42) scale(1.093,1)" x="537.74" font-size="8.2" font-style="italic" fill="#303030">N</text>
<text transform="translate(0,68.42) scale(1.093,1)" x="542.47 544.75 549.54 551.82 556.38 558.66 563.22 567.78 572.34 574.62 576.75" font-size="8.2" fill="#303030"> = 6,365 | </text>
<text transform="translate(0,68.42) scale(1.093,1)" x="579.02" font-size="8.2" font-style="italic" fill="#303030">n</text>
<text transform="translate(0,68.42) scale(1.093,1)" x="582.40 584.67 589.46 591.74 596.30 598.58 603.14 607.70" font-size="8.2" fill="#303030"> = 4,975</text>
<text transform="translate(506.53,68.42) scale(0.787,1)" font-size="8.2" fill="#303030">1</text>
<text transform="translate(554.62,67.82) scale(1.093,1)" font-size="6.56" fill="#303030">×</text>
<text transform="translate(561.03,68.42) scale(0.787,1)" font-size="8.2" fill="#303030">1</text>
<text transform="translate(572.42,64.02) scale(0.787,1)" font-size="4.9" fill="#303030">1</text>
<rect x="299.86" y="65.32" width="3.42" height="1.0" fill="#1b2a58"/>
<rect x="299.36" y="62.62" width="1" height="6.4" fill="#1b2a58"/>
<rect x="302.78" y="62.62" width="1" height="6.4" fill="#1b2a58"/>
<rect x="300.04" y="64.47" width="2.7" height="2.7" fill="#1b2a58"/>
<rect x="145.0" y="76.00" width="4" height="1" fill="#646464"/>
<text transform="translate(141.0,79.30) scale(1.09,1)" font-size="8.4" text-anchor="end" fill="#303030">Male</text>
<text transform="translate(0,79.10) scale(1.093,1)" x="367.06 372.98 377.55 379.82 384.38 387.11 391.68 396.24 400.34 404.90 407.17 409.90 412.18 417.65 422.21 426.31 428.59 430.72" font-size="8.2" fill="#303030">Reference - Sex | </text>
<text transform="translate(0,79.10) scale(1.093,1)" x="433.00" font-size="8.2" font-style="italic" fill="#303030">N</text>
<text transform="translate(0,79.10) scale(1.093,1)" x="437.73 440.01 444.80 447.08 451.64 456.20 458.48 463.04 467.60 472.16 474.44 476.57" font-size="8.2" fill="#303030"> = 64,860 | </text>
<text transform="translate(0,79.10) scale(1.093,1)" x="478.84" font-size="8.2" font-style="italic" fill="#303030">n</text>
<text transform="translate(0,79.10) scale(1.093,1)" x="482.22 484.49 489.28 491.56 496.12 500.68 502.96 507.52 512.08" font-size="8.2" fill="#303030"> = 58,095</text>
<rect x="315.70" y="73.30" width="6.4" height="6.4" fill="#72829a"/>
<rect x="145.0" y="86.68" width="4" height="1" fill="#646464"/>
<text transform="translate(141.0,89.98) scale(1.09,1)" font-size="8.4" text-anchor="end" fill="#303030">Female</text>
<text transform="translate(0,89.78) scale(1.093,1)" x="367.06 373.44 379.36 381.64 386.20 388.48 393.04 397.60 399.88 402.61 407.17 411.73 419.02 421.30 427.22 429.50 431.78 436.34 438.62 443.18 447.74 452.30 456.86 459.14 463.70 468.26 470.99 473.27 475.40" font-size="8.2" fill="#303030">OR 0.87 (95% CI 0.83–0.90) | </text>
<text transform="translate(0,89.78) scale(1.093,1)" x="477.68" font-size="8.2" font-style="italic" fill="#303030">P</text>
<text transform="translate(0,89.78) scale(1.093,1)" x="481.95 484.23 489.02 491.30 495.86 498.14 502.70 507.26 512.95 518.12" font-size="8.2" fill="#303030"> = 2.24  0</text>
<text transform="translate(0,85.38) scale(1.093,1)" x="522.68 527.27" font-size="4.9" fill="#303030">−4</text>
<text transform="translate(0,89.78) scale(1.093,1)" x="530.00 532.28 534.41" font-size="8.2" fill="#303030"> | </text>
<text transform="translate(0,89.78) scale(1.093,1)" x="536.68" font-size="8.2" font-style="italic" fill="#303030">N</text>
<text transform="translate(0,89.78) scale(1.093,1)" x="541.42 543.70 548.48 550.76 555.32 559.88 562.16 566.72 571.28 575.84 578.12 580.25" font-size="8.2" fill="#303030"> = 52,380 | </text>
<text transform="translate(0,89.78) scale(1.093,1)" x="582.53" font-size="8.2" font-style="italic" fill="#303030">n</text>
<text transform="translate(0,89.78) scale(1.093,1)" x="585.90 588.18 592.97 595.25 599.81 604.37 609.54 614.10" font-size="8.2" fill="#303030"> = 46,50</text>
<text transform="translate(556.45,89.18) scale(1.093,1)" font-size="6.56" fill="#303030">×</text>
<text transform="translate(562.86,89.78) scale(0.787,1)" font-size="8.2" fill="#303030">1</text>
<text transform="translate(574.25,85.38) scale(0.787,1)" font-size="4.9" fill="#303030">1</text>
<text transform="translate(662.77,89.78) scale(0.787,1)" font-size="8.2" fill="#303030">1</text>
<rect x="314.58" y="86.68" width="1.88" height="1.0" fill="#1b2a58"/>
<rect x="314.08" y="83.98" width="1" height="6.4" fill="#1b2a58"/>
<rect x="315.96" y="83.98" width="1" height="6.4" fill="#1b2a58"/>
<rect x="312.77" y="84.28" width="5.8" height="5.8" fill="#1b2a58"/>
<rect x="145.0" y="97.36" width="4" height="1" fill="#646464"/>
<text transform="translate(141.0,100.66) scale(1.09,1)" font-size="8.4" text-anchor="end" fill="#303030">White</text>
<text transform="translate(0,100.46) scale(1.093,1)" x="367.06 372.98 377.55 379.82 384.38 387.11 391.68 396.24 400.34 404.90 407.17 409.90 412.18 417.65 420.38 424.94 429.50 434.06 436.34 440.90 443.18 447.74 452.30 454.12 458.22 460.50 465.06 467.79 472.35 476.91 481.47 483.75 485.88" font-size="8.2" fill="#303030">Reference - Broad ethnic group | </text>
<text transform="translate(0,100.46) scale(1.093,1)" x="488.16" font-size="8.2" font-style="italic" fill="#303030">N</text>
<text transform="translate(0,100.46) scale(1.093,1)" x="492.89 495.17 499.96 502.24 506.80 511.36 513.64 518.20 522.76 527.32 529.60 531.73" font-size="8.2" fill="#303030"> = 99,750 | </text>
<text transform="translate(0,100.46) scale(1.093,1)" x="534.01" font-size="8.2" font-style="italic" fill="#303030">n</text>
<text transform="translate(0,100.46) scale(1.093,1)" x="537.38 539.66 544.44 546.72 551.28 555.84 558.12 562.68 567.24" font-size="8.2" fill="#303030"> = 88,305</text>
<rect x="315.10" y="94.06" width="7.6" height="7.6" fill="#72829a"/>
<rect x="145.0" y="108.04" width="4" height="1" fill="#646464"/>
<text transform="translate(141.0,111.34) scale(1.09,1)" font-size="8.4" text-anchor="end" fill="#303030">Other ethnicities</text>
<text transform="translate(0,111.14) scale(1.093,1)" x="367.06 373.44 379.36 381.64 386.20 388.48 393.04 397.60 399.88 402.61 407.17 411.73 419.02 421.30 427.22 429.50 431.78 436.34 438.62 443.18 447.74 452.30 456.86 459.14 463.70 468.26 470.99 473.27 475.40" font-size="8.2" fill="#303030">OR 0.79 (95% CI 0.74–0.84) | </text>
<text transform="translate(0,111.14) scale(1.093,1)" x="477.68" font-size="8.2" font-style="italic" fill="#303030">P</text>
<text transform="translate(0,111.14) scale(1.093,1)" x="481.95 484.23 489.02 491.30 495.86 498.14 502.70 507.26 512.95 518.12" font-size="8.2" fill="#303030"> = 4.25  0</text>
<text transform="translate(0,106.74) scale(1.093,1)" x="522.68 527.27" font-size="4.9" fill="#303030">−3</text>
<text transform="translate(0,111.14) scale(1.093,1)" x="530.00 532.28 534.41" font-size="8.2" fill="#303030"> | </text>
<text transform="translate(0,111.14) scale(1.093,1)" x="536.68" font-size="8.2" font-style="italic" fill="#303030">N</text>
<text transform="translate(0,111.14) scale(1.093,1)" x="541.42 543.70 548.48 550.76 555.32 557.60 565.05 569.61 571.89 574.02" font-size="8.2" fill="#303030"> = 9,50 | </text>
<text transform="translate(0,111.14) scale(1.093,1)" x="576.30" font-size="8.2" font-style="italic" fill="#303030">n</text>
<text transform="translate(0,111.14) scale(1.093,1)" x="579.67 581.95 586.74 589.02 593.58 595.85 603.31" font-size="8.2" fill="#303030"> = 8,30</text>
<text transform="translate(556.45,110.54) scale(1.093,1)" font-size="6.56" fill="#303030">×</text>
<text transform="translate(562.86,111.14) scale(0.787,1)" font-size="8.2" fill="#303030">1</text>
<text transform="translate(574.25,106.74) scale(0.787,1)" font-size="4.9" fill="#303030">1</text>
<text transform="translate(614.15,111.14) scale(0.787,1)" font-size="8.2" fill="#303030">1</text>
<text transform="translate(655.96,111.14) scale(0.787,1)" font-size="8.2" fill="#303030">1</text>
<rect x="311.92" y="108.04" width="2.94" height="1.0" fill="#1b2a58"/>
<rect x="311.42" y="105.34" width="1" height="6.4" fill="#1b2a58"/>
<rect x="314.36" y="105.34" width="1" height="6.4" fill="#1b2a58"/>
<rect x="312.23" y="107.34" width="2.4" height="2.4" fill="#1b2a58"/>
<rect x="145.0" y="118.72" width="4" height="1" fill="#646464"/>
<text transform="translate(141.0,122.02) scale(1.09,1)" font-size="8.4" text-anchor="end" fill="#303030">Not known</text>
<text transform="translate(0,121.82) scale(1.093,1)" x="367.06 373.44 379.36 384.53 386.81 391.37 395.93 398.21 400.94 405.50 410.06 417.35 419.63 425.55 427.83 433.00 435.28 439.84 444.40 451.85 454.13 458.69 463.25 465.98 468.26 470.39" font-size="8.2" fill="#303030">OR .75 (95% CI .55–.98) | </text>
<text transform="translate(0,121.82) scale(1.093,1)" x="472.67" font-size="8.2" font-style="italic" fill="#303030">P</text>
<text transform="translate(0,121.82) scale(1.093,1)" x="476.95 479.23 484.01 486.29 490.85 493.13 497.69 502.25 507.95 513.12" font-size="8.2" fill="#303030"> = 9.94  0</text>
<text transform="translate(0,117.42) scale(1.093,1)" x="517.68 520.54 523.26" font-size="4.9" fill="#303030">−20</text>
<text transform="translate(0,121.82) scale(1.093,1)" x="525.99 528.27 530.40" font-size="8.2" fill="#303030"> | </text>
<text transform="translate(0,121.82) scale(1.093,1)" x="532.67" font-size="8.2" font-style="italic" fill="#303030">N</text>
<text transform="translate(0,121.82) scale(1.093,1)" x="537.41 539.68 544.47 546.75 551.31 553.59 558.15 562.71 567.27 569.55 571.68" font-size="8.2" fill="#303030"> = 7,975 | </text>
<text transform="translate(0,121.82) scale(1.093,1)" x="573.96" font-size="8.2" font-style="italic" fill="#303030">n</text>
<text transform="translate(0,121.82) scale(1.093,1)" x="577.33 579.61 584.40 586.67 591.24 593.51 598.07 602.63" font-size="8.2" fill="#303030"> = 7,630</text>
<text transform="translate(416.84,121.82) scale(0.787,1)" font-size="8.2" fill="#303030">1</text>
<text transform="translate(469.82,121.82) scale(0.787,1)" font-size="8.2" fill="#303030">1</text>
<text transform="translate(490.42,121.82) scale(0.787,1)" font-size="8.2" fill="#303030">1</text>
<text transform="translate(550.97,121.22) scale(1.093,1)" font-size="6.56" fill="#303030">×</text>
<text transform="translate(557.38,121.82) scale(0.787,1)" font-size="8.2" fill="#303030">1</text>
<rect x="329.06" y="118.72" width="5.68" height="1.0" fill="#1b2a58"/>
<rect x="328.56" y="116.02" width="1" height="6.4" fill="#1b2a58"/>
<rect x="334.24" y="116.02" width="1" height="6.4" fill="#1b2a58"/>
<rect x="330.68" y="118.02" width="2.4" height="2.4" fill="#1b2a58"/>
<rect x="145.0" y="129.40" width="4" height="1" fill="#646464"/>
<text transform="translate(141.0,132.70) scale(1.09,1)" font-size="8.4" text-anchor="end" fill="#303030">Quintile 1</text>
<text transform="translate(0,132.50) scale(1.093,1)" x="367.06 372.98 377.55 379.82 384.38 387.11 391.68 396.24 400.34 404.90 407.17 409.90 412.18 418.10 422.67 427.23 429.96 431.78 435.88 440.44 442.72 444.54 449.10 453.66 455.94 458.07" font-size="8.2" fill="#303030">Reference - Deprivation | </text>
<text transform="translate(0,132.50) scale(1.093,1)" x="460.35" font-size="8.2" font-style="italic" fill="#303030">N</text>
<text transform="translate(0,132.50) scale(1.093,1)" x="466.27 471.06 475.62 480.18 482.46 487.02 491.58 496.14 498.42 500.55" font-size="8.2" fill="#303030">=53,330 | </text>
<text transform="translate(0,132.50) scale(1.093,1)" x="502.82" font-size="8.2" font-style="italic" fill="#303030">n</text>
<text transform="translate(0,132.50) scale(1.093,1)" x="506.19 508.47 513.26 515.54 520.10 524.66 526.94 534.39" font-size="8.2" fill="#303030"> = 46,75</text>
<text transform="translate(580.64,132.50) scale(0.787,1)" font-size="8.2" fill="#303030">1</text>
<rect x="315.90" y="126.90" width="6.0" height="6.0" fill="#72829a"/>
<rect x="145.0" y="140.08" width="4" height="1" fill="#646464"/>
<text transform="translate(141.0,143.38) scale(1.09,1)" font-size="8.4" text-anchor="end" fill="#303030">Quintile 2</text>
<text transform="translate(0,143.18) scale(1.093,1)" x="367.06 373.44 379.36 384.53 386.81 391.37 395.93 398.21 400.94 405.50 410.06 417.35 419.63 425.55 427.83 433.00 435.28 439.84 444.40 451.85 457.02 461.58 464.31 466.59 468.72" font-size="8.2" fill="#303030">OR .05 (95% CI .00–.0) | </text>
<text transform="translate(0,143.18) scale(1.093,1)" x="471.00" font-size="8.2" font-style="italic" fill="#303030">P</text>
<text transform="translate(0,143.18) scale(1.093,1)" x="475.28 477.56 482.34 484.62 489.18 491.46 496.02 500.58 506.28 511.45" font-size="8.2" fill="#303030"> = 4.07  0</text>
<text transform="translate(0,138.78) scale(1.093,1)" x="516.01 518.87" font-size="4.9" fill="#303030">−2</text>
<text transform="translate(0,143.18) scale(1.093,1)" x="521.59 523.87 526.00" font-size="8.2" fill="#303030"> | </text>
<text transform="translate(0,143.18) scale(1.093,1)" x="528.28" font-size="8.2" font-style="italic" fill="#303030">N</text>
<text transform="translate(0,143.18) scale(1.093,1)" x="533.01 535.29 540.08 542.36 546.92 551.48 556.65 561.21 565.77 568.05 570.18" font-size="8.2" fill="#303030"> = 23,00 | </text>
<text transform="translate(0,143.18) scale(1.093,1)" x="572.46" font-size="8.2" font-style="italic" fill="#303030">n</text>
<text transform="translate(0,143.18) scale(1.093,1)" x="575.83 578.10 582.89 585.17 589.73 594.29 596.57 601.13 605.69" font-size="8.2" fill="#303030"> = 20,380</text>
<text transform="translate(416.84,143.18) scale(0.787,1)" font-size="8.2" fill="#303030">1</text>
<text transform="translate(469.82,143.18) scale(0.787,1)" font-size="8.2" fill="#303030">1</text>
<text transform="translate(490.42,143.18) scale(0.787,1)" font-size="8.2" fill="#303030">1</text>
<text transform="translate(496.07,143.18) scale(0.787,1)" font-size="8.2" fill="#303030">1</text>
<text transform="translate(549.15,142.58) scale(1.093,1)" font-size="6.56" fill="#303030">×</text>
<text transform="translate(555.56,143.18) scale(0.787,1)" font-size="8.2" fill="#303030">1</text>
<text transform="translate(604.96,143.18) scale(0.787,1)" font-size="8.2" fill="#303030">1</text>
<rect x="318.90" y="140.08" width="2.21" height="1.0" fill="#1b2a58"/>
<rect x="318.40" y="137.38" width="1" height="6.4" fill="#1b2a58"/>
<rect x="320.61" y="137.38" width="1" height="6.4" fill="#1b2a58"/>
<rect x="318.03" y="138.58" width="4.0" height="4.0" fill="#1b2a58"/>
<rect x="145.0" y="150.76" width="4" height="1" fill="#646464"/>
<text transform="translate(141.0,154.06) scale(1.09,1)" font-size="8.4" text-anchor="end" fill="#303030">Quintile 3</text>
<text transform="translate(0,153.86) scale(1.093,1)" x="367.06 373.44 379.36 384.53 389.70 394.26 396.54 399.27 403.83 408.39 415.68 417.96 423.88 426.16 431.33 436.50 441.06 448.51 450.79 455.35 459.91 462.64 464.92 467.05" font-size="8.2" fill="#303030">OR .9 (95% CI .2–.26) | </text>
<text transform="translate(0,153.86) scale(1.093,1)" x="469.33" font-size="8.2" font-style="italic" fill="#303030">P</text>
<text transform="translate(0,153.86) scale(1.093,1)" x="473.61 475.89 480.68 482.95 487.51 489.79 494.35 498.91 504.61 509.78" font-size="8.2" fill="#303030"> = 5.00  0</text>
<text transform="translate(0,149.46) scale(1.093,1)" x="514.34 517.20" font-size="4.9" fill="#303030">−9</text>
<text transform="translate(0,153.86) scale(1.093,1)" x="519.92 522.20 524.33" font-size="8.2" fill="#303030"> | </text>
<text transform="translate(0,153.86) scale(1.093,1)" x="526.61" font-size="8.2" font-style="italic" fill="#303030">N</text>
<text transform="translate(0,153.86) scale(1.093,1)" x="531.34 533.62 538.41 543.58 548.14 550.42 554.98 559.54 564.10 566.38 568.51" font-size="8.2" fill="#303030"> = 5,405 | </text>
<text transform="translate(0,153.86) scale(1.093,1)" x="570.79" font-size="8.2" font-style="italic" fill="#303030">n</text>
<text transform="translate(0,153.86) scale(1.093,1)" x="574.16 576.44 581.22 586.39 590.95 593.23 597.79 602.35" font-size="8.2" fill="#303030"> = 3,840</text>
<text transform="translate(416.84,153.86) scale(0.787,1)" font-size="8.2" fill="#303030">1</text>
<text transform="translate(422.49,153.86) scale(0.787,1)" font-size="8.2" fill="#303030">1</text>
<text transform="translate(467.99,153.86) scale(0.787,1)" font-size="8.2" fill="#303030">1</text>
<text transform="translate(473.64,153.86) scale(0.787,1)" font-size="8.2" fill="#303030">1</text>
<text transform="translate(486.77,153.86) scale(0.787,1)" font-size="8.2" fill="#303030">1</text>
<text transform="translate(547.33,153.26) scale(1.093,1)" font-size="6.56" fill="#303030">×</text>
<text transform="translate(553.73,153.86) scale(0.787,1)" font-size="8.2" fill="#303030">1</text>
<text transform="translate(590.68,153.86) scale(0.787,1)" font-size="8.2" fill="#303030">1</text>
<text transform="translate(637.48,153.86) scale(0.787,1)" font-size="8.2" fill="#303030">1</text>
<rect x="321.53" y="150.76" width="2.73" height="1.0" fill="#1b2a58"/>
<rect x="321.03" y="148.06" width="1" height="6.4" fill="#1b2a58"/>
<rect x="323.76" y="148.06" width="1" height="6.4" fill="#1b2a58"/>
<rect x="321.33" y="149.66" width="3.2" height="3.2" fill="#1b2a58"/>
<rect x="145.0" y="161.44" width="4" height="1" fill="#646464"/>
<text transform="translate(141.0,164.74) scale(1.09,1)" font-size="8.4" text-anchor="end" fill="#303030">Quintile 4</text>
<text transform="translate(0,164.54) scale(1.093,1)" x="367.06 373.44 379.36 384.53 386.81 391.37 395.93 398.21 400.94 405.50 410.06 417.35 419.63 425.55 427.83 433.00 435.28 442.73 450.18 452.46 457.02 461.58 464.31 466.59 468.72" font-size="8.2" fill="#303030">OR .29 (95% CI .2–.38) | </text>
<text transform="translate(0,164.54) scale(1.093,1)" x="471.00" font-size="8.2" font-style="italic" fill="#303030">P</text>
<text transform="translate(0,164.54) scale(1.093,1)" x="475.28 477.56 482.34 484.62 489.18 491.46 496.02 500.58 506.28 511.45" font-size="8.2" fill="#303030"> = 3.85  0</text>
<text transform="translate(0,160.14) scale(1.093,1)" x="516.01 520.60" font-size="4.9" fill="#303030">−4</text>
<text transform="translate(0,164.54) scale(1.093,1)" x="523.32 525.60 527.73" font-size="8.2" fill="#303030"> | </text>
<text transform="translate(0,164.54) scale(1.093,1)" x="530.01" font-size="8.2" font-style="italic" fill="#303030">N</text>
<text transform="translate(0,164.54) scale(1.093,1)" x="534.74 537.02 541.81 546.98 551.54 556.71 561.27 565.83 568.11 570.24" font-size="8.2" fill="#303030"> = 2,25 | </text>
<text transform="translate(0,164.54) scale(1.093,1)" x="572.51" font-size="8.2" font-style="italic" fill="#303030">n</text>
<text transform="translate(0,164.54) scale(1.093,1)" x="575.88 578.16 582.95 588.12 592.68 594.96 599.52 604.08" font-size="8.2" fill="#303030"> = 0,960</text>
<text transform="translate(416.84,164.54) scale(0.787,1)" font-size="8.2" fill="#303030">1</text>
<text transform="translate(469.82,164.54) scale(0.787,1)" font-size="8.2" fill="#303030">1</text>
<text transform="translate(480.45,164.54) scale(0.787,1)" font-size="8.2" fill="#303030">1</text>
<text transform="translate(488.60,164.54) scale(0.787,1)" font-size="8.2" fill="#303030">1</text>
<text transform="translate(549.15,163.94) scale(1.093,1)" font-size="6.56" fill="#303030">×</text>
<text transform="translate(555.56,164.54) scale(0.787,1)" font-size="8.2" fill="#303030">1</text>
<text transform="translate(566.95,160.14) scale(0.787,1)" font-size="4.9" fill="#303030">1</text>
<text transform="translate(594.39,164.54) scale(0.787,1)" font-size="8.2" fill="#303030">1</text>
<text transform="translate(605.03,164.54) scale(0.787,1)" font-size="8.2" fill="#303030">1</text>
<text transform="translate(639.36,164.54) scale(0.787,1)" font-size="8.2" fill="#303030">1</text>
<rect x="323.32" y="161.44" width="3.05" height="1.0" fill="#1b2a58"/>
<rect x="322.82" y="158.74" width="1" height="6.4" fill="#1b2a58"/>
<rect x="325.87" y="158.74" width="1" height="6.4" fill="#1b2a58"/>
<rect x="323.31" y="160.44" width="3.0" height="3.0" fill="#1b2a58"/>
<rect x="145.0" y="172.12" width="4" height="1" fill="#646464"/>
<text transform="translate(141.0,175.42) scale(1.09,1)" font-size="8.4" text-anchor="end" fill="#303030">Quintile 5</text>
<text transform="translate(0,175.22) scale(1.093,1)" x="367.06 373.44 379.36 384.53 386.81 391.37 395.93 398.21 400.94 405.50 410.06 417.35 419.63 425.55 427.83 430.11 434.67 436.95 441.51 446.07 453.52 458.69 463.25 465.98 468.26 470.39" font-size="8.2" fill="#303030">OR .02 (95% CI 0.94–.2) | </text>
<text transform="translate(0,175.22) scale(1.093,1)" x="472.67" font-size="8.2" font-style="italic" fill="#303030">P</text>
<text transform="translate(0,175.22) scale(1.093,1)" x="476.95 479.23 484.01 486.29 490.85 493.13 497.69 502.25 507.95 513.12" font-size="8.2" fill="#303030"> = 6.05  0</text>
<text transform="translate(0,170.82) scale(1.093,1)" x="517.68" font-size="4.9" fill="#303030">−</text>
<text transform="translate(0,175.22) scale(1.093,1)" x="522.27 524.54 526.67" font-size="8.2" fill="#303030"> | </text>
<text transform="translate(0,175.22) scale(1.093,1)" x="528.95" font-size="8.2" font-style="italic" fill="#303030">N</text>
<text transform="translate(0,175.22) scale(1.093,1)" x="533.68 535.96 540.75 543.03 547.59 549.87 554.43 558.99 563.55 565.83 567.96" font-size="8.2" fill="#303030"> = 5,495 | </text>
<text transform="translate(0,175.22) scale(1.093,1)" x="570.24" font-size="8.2" font-style="italic" fill="#303030">n</text>
<text transform="translate(0,175.22) scale(1.093,1)" x="573.61 575.89 580.67 582.95 587.51 589.79 594.35 598.91" font-size="8.2" fill="#303030"> = 4,865</text>
<text transform="translate(416.84,175.22) scale(0.787,1)" font-size="8.2" fill="#303030">1</text>
<text transform="translate(492.25,175.22) scale(0.787,1)" font-size="8.2" fill="#303030">1</text>
<text transform="translate(497.90,175.22) scale(0.787,1)" font-size="8.2" fill="#303030">1</text>
<text transform="translate(550.97,174.62) scale(1.093,1)" font-size="6.56" fill="#303030">×</text>
<text transform="translate(557.38,175.22) scale(0.787,1)" font-size="8.2" fill="#303030">1</text>
<text transform="translate(568.77,170.82) scale(0.787,1)" font-size="4.9" fill="#303030">1</text>
<rect x="317.47" y="172.12" width="4.06" height="1.0" fill="#4682b4"/>
<rect x="316.97" y="169.42" width="1" height="6.4" fill="#4682b4"/>
<rect x="321.03" y="169.42" width="1" height="6.4" fill="#4682b4"/>
<rect x="318.16" y="171.42" width="2.4" height="2.4" fill="#4682b4"/>
<rect x="145.0" y="182.80" width="4" height="1" fill="#646464"/>
<text transform="translate(141.0,186.10) scale(1.09,1)" font-size="8.4" text-anchor="end" fill="#303030">Unknown</text>
<text transform="translate(0,185.90) scale(1.093,1)" x="367.06 373.44 379.36 381.64 386.20 388.48 393.04 397.60 399.88 402.61 407.17 411.73 419.02 421.30 427.22 429.50 431.78 436.34 438.62 443.18 447.74 452.30 456.86 459.14 463.70 468.26 470.99 473.27 475.40" font-size="8.2" fill="#303030">OR 2.54 (95% CI 2.23–2.89) | </text>
<text transform="translate(0,185.90) scale(1.093,1)" x="477.68" font-size="8.2" font-style="italic" fill="#303030">P</text>
<text transform="translate(0,185.90) scale(1.093,1)" x="481.95 484.23 489.02 494.19 496.47 501.03 505.59 511.28 516.45" font-size="8.2" fill="#303030"> = .07  0</text>
<text transform="translate(0,181.50) scale(1.093,1)" x="521.01 523.88 526.60" font-size="4.9" fill="#303030">−44</text>
<text transform="translate(0,185.90) scale(1.093,1)" x="529.33 531.60 533.73" font-size="8.2" fill="#303030"> | </text>
<text transform="translate(0,185.90) scale(1.093,1)" x="536.01" font-size="8.2" font-style="italic" fill="#303030">N</text>
<text transform="translate(0,185.90) scale(1.093,1)" x="540.75 543.02 547.81 550.09 554.65 556.93 561.49 566.05 570.61 572.89 575.02" font-size="8.2" fill="#303030"> = 7,780 | </text>
<text transform="translate(0,185.90) scale(1.093,1)" x="577.30" font-size="8.2" font-style="italic" fill="#303030">n</text>
<text transform="translate(0,185.90) scale(1.093,1)" x="580.67 582.95 587.74 590.01 594.57 596.85 601.41 605.97" font-size="8.2" fill="#303030"> = 7,480</text>
<text transform="translate(536.70,185.90) scale(0.787,1)" font-size="8.2" fill="#303030">1</text>
<text transform="translate(554.62,185.30) scale(1.093,1)" font-size="6.56" fill="#303030">×</text>
<text transform="translate(561.03,185.90) scale(0.787,1)" font-size="8.2" fill="#303030">1</text>
<rect x="337.50" y="182.80" width="6.01" height="1.0" fill="#1b2a58"/>
<rect x="337.00" y="180.10" width="1" height="6.4" fill="#1b2a58"/>
<rect x="343.01" y="180.10" width="1" height="6.4" fill="#1b2a58"/>
<rect x="339.32" y="182.10" width="2.4" height="2.4" fill="#1b2a58"/>
</g>
<g transform="translate(0,693)">
<text x="0.6" y="10.5" font-size="15" font-weight="bold" fill="#000" stroke="#000" stroke-width="0.7">d</text>
<rect x="0" y="16.15" width="46" height="0.7" fill="#e2e2e2"/>
<text transform="translate(0.6,26.1) scale(1.06,1)" font-size="10.2" fill="#303030">Age group</text>
<rect x="0" y="70.15" width="46" height="0.7" fill="#e2e2e2"/>
<text transform="translate(2.0,79.6) scale(1.06,1)" font-size="10.2" fill="#303030">Sex</text>
<rect x="0" y="92.05000000000001" width="46" height="0.7" fill="#e2e2e2"/>
<text transform="translate(0.4,101.6) scale(1.06,1)" font-size="10.2" fill="#303030">Broad ethnic</text>
<text transform="translate(0.4,111.0) scale(1.06,1)" font-size="10.2" fill="#303030">group</text>
<rect x="0" y="124.05000000000001" width="46" height="0.7" fill="#e2e2e2"/>
<text transform="translate(0.4,133.4) scale(1.06,1)" font-size="10.2" fill="#303030">Deprivation</text>
<rect x="149.0" y="17.0" width="1" height="172.8" fill="#646464"/>
<rect x="149.0" y="188.8" width="248.0" height="1" fill="#646464"/>
<line x1="318.9" y1="17.0" x2="318.9" y2="189.3" stroke="#b0b0b0" stroke-width="1" stroke-dasharray="1 2.5"/>
<rect x="158.2" y="189.3" width="1" height="4.5" fill="#646464"/>
<text transform="translate(158.70,204.7) scale(1.03,1)" font-size="8.7" text-anchor="middle" fill="#303030">0.001</text>
<rect x="211.59999999999997" y="189.3" width="1" height="4.5" fill="#646464"/>
<text transform="translate(212.10,204.7) scale(1.03,1)" font-size="8.7" text-anchor="middle" fill="#303030">0.01</text>
<rect x="265.0" y="189.3" width="1" height="4.5" fill="#646464"/>
<text transform="translate(265.50,204.7) scale(1.03,1)" font-size="8.7" text-anchor="middle" fill="#303030">0.1</text>
<rect x="318.4" y="189.3" width="1" height="4.5" fill="#646464"/>
<text transform="translate(318.90,204.7) scale(1.03,1)" font-size="8.7" text-anchor="middle" fill="#303030">1</text>
<rect x="371.79999999999995" y="189.3" width="1" height="4.5" fill="#646464"/>
<text transform="translate(372.30,204.7) scale(1.03,1)" font-size="8.7" text-anchor="middle" fill="#303030">10</text>
<text x="273.25" y="221.1" font-size="10.2" text-anchor="middle" fill="#303030">OR (95% CI, log scale)</text>
<rect x="145.0" y="22.60" width="4" height="1" fill="#646464"/>
<text transform="translate(141.0,25.90) scale(1.09,1)" font-size="8.4" text-anchor="end" fill="#303030">55–64</text>
<text transform="translate(0,25.70) scale(1.093,1)" x="367.06 372.98 377.55 379.82 384.38 387.11 391.68 396.24 400.34 404.90 407.17 409.90 412.18 417.65 422.21 426.77 429.05 433.61 436.34 440.90 445.46 450.02 452.30 454.43" font-size="8.2" fill="#303030">Reference - Age group | </text>
<text transform="translate(0,25.70) scale(1.093,1)" x="456.71" font-size="8.2" font-style="italic" fill="#303030">N</text>
<text transform="translate(0,25.70) scale(1.093,1)" x="461.44 463.72 468.51 473.68 478.24 483.41 487.97 492.53 494.81 496.94" font-size="8.2" fill="#303030"> = 8,65 | </text>
<text transform="translate(0,25.70) scale(1.093,1)" x="499.22" font-size="8.2" font-style="italic" fill="#303030">n</text>
<text transform="translate(0,25.70) scale(1.093,1)" x="502.59 504.87 509.65 514.21 518.78" font-size="8.2" fill="#303030"> =330</text>
<text transform="translate(514.28,25.70) scale(0.787,1)" font-size="8.2" fill="#303030">1</text>
<text transform="translate(524.91,25.70) scale(0.787,1)" font-size="8.2" fill="#303030">1</text>
<rect x="316.00" y="20.20" width="5.8" height="5.8" fill="#72829a"/>
<rect x="145.0" y="33.28" width="4" height="1" fill="#646464"/>
<text transform="translate(141.0,36.58) scale(1.09,1)" font-size="8.4" text-anchor="end" fill="#303030">65–74</text>
<text transform="translate(0,36.38) scale(1.093,1)" x="367.06 373.44 379.36 384.53 386.81 391.37 395.93 398.21 400.94 405.50 410.06 417.35 419.63 425.55 427.83 433.00 435.28 439.84 444.40 448.96 453.52 458.69 463.25 465.98 468.26 470.39" font-size="8.2" fill="#303030">OR .88 (95% CI .66–2.4) | </text>
<text transform="translate(0,36.38) scale(1.093,1)" x="472.67" font-size="8.2" font-style="italic" fill="#303030">P</text>
<text transform="translate(0,36.38) scale(1.093,1)" x="476.95 479.23 484.01 486.29 490.85 493.13 497.69 502.25 507.95 513.12" font-size="8.2" fill="#303030"> = 5.46  0</text>
<text transform="translate(0,31.98) scale(1.093,1)" x="517.68 520.54 523.26" font-size="4.9" fill="#303030">−22</text>
<text transform="translate(0,36.38) scale(1.093,1)" x="525.99 528.27 530.40" font-size="8.2" fill="#303030"> | </text>
<text transform="translate(0,36.38) scale(1.093,1)" x="532.67" font-size="8.2" font-style="italic" fill="#303030">N</text>
<text transform="translate(0,36.38) scale(1.093,1)" x="537.41 539.68 544.47 546.75 551.31 555.87 558.15 562.71 567.27 571.83 574.11 576.24" font-size="8.2" fill="#303030"> = 26,660 | </text>
<text transform="translate(0,36.38) scale(1.093,1)" x="578.52" font-size="8.2" font-style="italic" fill="#303030">n</text>
<text transform="translate(0,36.38) scale(1.093,1)" x="581.89 584.17 588.96 591.24 595.80 600.36" font-size="8.2" fill="#303030"> = 860</text>
<text transform="translate(416.84,36.38) scale(0.787,1)" font-size="8.2" fill="#303030">1</text>
<text transform="translate(469.82,36.38) scale(0.787,1)" font-size="8.2" fill="#303030">1</text>
<text transform="translate(497.90,36.38) scale(0.787,1)" font-size="8.2" fill="#303030">1</text>
<text transform="translate(550.97,35.78) scale(1.093,1)" font-size="6.56" fill="#303030">×</text>
<text transform="translate(557.38,36.38) scale(0.787,1)" font-size="8.2" fill="#303030">1</text>
<rect x="330.65" y="33.28" width="5.89" height="1.0" fill="#1b2a58"/>
<rect x="330.15" y="30.58" width="1" height="6.4" fill="#1b2a58"/>
<rect x="336.04" y="30.58" width="1" height="6.4" fill="#1b2a58"/>
<rect x="330.29" y="30.53" width="6.5" height="6.5" fill="#1b2a58"/>
<rect x="145.0" y="43.96" width="4" height="1" fill="#646464"/>
<text transform="translate(141.0,47.26) scale(1.09,1)" font-size="8.4" text-anchor="end" fill="#303030">75</text>
<text transform="translate(0,47.06) scale(1.093,1)" x="367.06 373.44 379.36 384.53 386.81 391.37 395.93 398.21 400.94 405.50 410.06 417.35 419.63 425.55 427.83 433.00 435.28 439.84 444.40 448.96 453.52 455.80 460.36 464.92 467.65 469.93 472.06" font-size="8.2" fill="#303030">OR .78 (95% CI .27–2.49) | </text>
<text transform="translate(0,47.06) scale(1.093,1)" x="474.34" font-size="8.2" font-style="italic" fill="#303030">P</text>
<text transform="translate(0,47.06) scale(1.093,1)" x="478.62 480.89 485.68 487.96 492.52 497.69 502.25 507.95 513.12" font-size="8.2" fill="#303030"> = 7.5  0</text>
<text transform="translate(0,42.66) scale(1.093,1)" x="517.68 520.54" font-size="4.9" fill="#303030">−4</text>
<text transform="translate(0,47.06) scale(1.093,1)" x="523.26 525.54 527.67" font-size="8.2" fill="#303030"> | </text>
<text transform="translate(0,47.06) scale(1.093,1)" x="529.95" font-size="8.2" font-style="italic" fill="#303030">N</text>
<text transform="translate(0,47.06) scale(1.093,1)" x="534.68 536.96 541.75 546.92 549.20 553.76 558.32 562.88 565.16 567.29" font-size="8.2" fill="#303030"> = ,465 | </text>
<text transform="translate(0,47.06) scale(1.093,1)" x="569.56" font-size="8.2" font-style="italic" fill="#303030">n</text>
<text transform="translate(0,47.06) scale(1.093,1)" x="572.94 575.21 580.00 582.28 586.84" font-size="8.2" fill="#303030"> = 40</text>
<text transform="translate(416.84,47.06) scale(0.787,1)" font-size="8.2" fill="#303030">1</text>
<text transform="translate(469.82,47.06) scale(0.787,1)" font-size="8.2" fill="#303030">1</text>
<text transform="translate(540.53,47.06) scale(0.787,1)" font-size="8.2" fill="#303030">1</text>
<text transform="translate(550.97,46.46) scale(1.093,1)" font-size="6.56" fill="#303030">×</text>
<text transform="translate(557.38,47.06) scale(0.787,1)" font-size="8.2" fill="#303030">1</text>
<text transform="translate(594.33,47.06) scale(0.787,1)" font-size="8.2" fill="#303030">1</text>
<rect x="324.44" y="43.96" width="15.61" height="1.0" fill="#1b2a58"/>
<rect x="323.94" y="41.26" width="1" height="6.4" fill="#1b2a58"/>
<rect x="339.56" y="41.26" width="1" height="6.4" fill="#1b2a58"/>
<rect x="331.27" y="43.46" width="2.0" height="2.0" fill="#1b2a58"/>
<rect x="145.0" y="54.64" width="4" height="1" fill="#646464"/>
<text transform="translate(141.0,57.94) scale(1.09,1)" font-size="8.4" text-anchor="end" fill="#303030">Other</text>
<text transform="translate(0,57.74) scale(1.093,1)" x="367.06 373.44 379.36 381.64 386.20 388.48 393.04 397.60 399.88 402.61 407.17 411.73 419.02 421.30 427.22 429.50 434.67 436.95 441.51 446.07 450.63 455.19 457.47 462.03 466.59 469.32 471.60 473.73" font-size="8.2" fill="#303030">OR 2.44 (95% CI .85–3.23) | </text>
<text transform="translate(0,57.74) scale(1.093,1)" x="476.01" font-size="8.2" font-style="italic" fill="#303030">P</text>
<text transform="translate(0,57.74) scale(1.093,1)" x="480.29 482.56 487.35 489.63 494.19 496.47 501.03 505.59 511.28 516.45" font-size="8.2" fill="#303030"> = 4.07  0</text>
<text transform="translate(0,53.34) scale(1.093,1)" x="521.01 525.60" font-size="4.9" fill="#303030">−0</text>
<text transform="translate(0,57.74) scale(1.093,1)" x="528.33 530.61 532.74" font-size="8.2" fill="#303030"> | </text>
<text transform="translate(0,57.74) scale(1.093,1)" x="535.02" font-size="8.2" font-style="italic" fill="#303030">N</text>
<text transform="translate(0,57.74) scale(1.093,1)" x="539.75 542.03 546.81 551.98 554.26 558.82 563.38 567.94 570.22 572.35" font-size="8.2" fill="#303030"> = ,550 | </text>
<text transform="translate(0,57.74) scale(1.093,1)" x="574.63" font-size="8.2" font-style="italic" fill="#303030">n</text>
<text transform="translate(0,57.74) scale(1.093,1)" x="578.00 580.28 585.07 587.35 591.91" font-size="8.2" fill="#303030"> = 60</text>
<text transform="translate(471.64,57.74) scale(0.787,1)" font-size="8.2" fill="#303030">1</text>
<text transform="translate(554.62,57.14) scale(1.093,1)" font-size="6.56" fill="#303030">×</text>
<text transform="translate(561.03,57.74) scale(0.787,1)" font-size="8.2" fill="#303030">1</text>
<text transform="translate(572.42,53.34) scale(0.787,1)" font-size="4.9" fill="#303030">1</text>
<text transform="translate(599.87,57.74) scale(0.787,1)" font-size="8.2" fill="#303030">1</text>
<rect x="333.17" y="54.64" width="12.92" height="1.0" fill="#1b2a58"/>
<rect x="332.67" y="51.94" width="1" height="6.4" fill="#1b2a58"/>
<rect x="345.59" y="51.94" width="1" height="6.4" fill="#1b2a58"/>
<rect x="338.54" y="54.09" width="2.1" height="2.1" fill="#1b2a58"/>
<rect x="145.0" y="65.32" width="4" height="1" fill="#646464"/>
<text transform="translate(141.0,68.62) scale(1.09,1)" font-size="8.4" text-anchor="end" fill="#303030">Not known</text>
<text transform="translate(0,68.42) scale(1.093,1)" x="367.06 373.44 379.36 381.64 386.20 388.48 393.04 397.60 399.88 402.61 407.17 411.73 419.02 421.30 427.22 429.50 431.78 436.34 444.40 448.96 453.52 455.80 460.36 464.92 467.65 469.93 472.06" font-size="8.2" fill="#303030">OR 2.49 (95% CI 2.–2.93) | </text>
<text transform="translate(0,68.42) scale(1.093,1)" x="474.34" font-size="8.2" font-style="italic" fill="#303030">P</text>
<text transform="translate(0,68.42) scale(1.093,1)" x="478.62 480.89 485.68 490.85 493.13 500.58 506.28 511.45" font-size="8.2" fill="#303030"> = .7  0</text>
<text transform="translate(0,64.02) scale(1.093,1)" x="516.01 518.87 521.59" font-size="4.9" fill="#303030">−27</text>
<text transform="translate(0,68.42) scale(1.093,1)" x="524.32 526.60 528.73" font-size="8.2" fill="#303030"> | </text>
<text transform="translate(0,68.42) scale(1.093,1)" x="531.01" font-size="8.2" font-style="italic" fill="#303030">N</text>
<text transform="translate(0,68.42) scale(1.093,1)" x="535.74 538.02 542.80 545.08 549.64 551.92 556.48 561.04 565.60 567.88 570.01" font-size="8.2" fill="#303030"> = 5,565 | </text>
<text transform="translate(0,68.42) scale(1.093,1)" x="572.29" font-size="8.2" font-style="italic" fill="#303030">n</text>
<text transform="translate(0,68.42) scale(1.093,1)" x="575.66 577.94 582.73 585.01 589.57 594.13" font-size="8.2" fill="#303030"> = 275</text>
<text transform="translate(479.12,68.42) scale(0.787,1)" font-size="8.2" fill="#303030">1</text>
<text transform="translate(482.28,68.42) scale(0.787,1)" font-size="8.2" fill="#303030">1</text>
<text transform="translate(533.05,68.42) scale(0.787,1)" font-size="8.2" fill="#303030">1</text>
<text transform="translate(543.69,68.42) scale(0.787,1)" font-size="8.2" fill="#303030">1</text>
<text transform="translate(549.15,67.82) scale(1.093,1)" font-size="6.56" fill="#303030">×</text>
<text transform="translate(555.56,68.42) scale(0.787,1)" font-size="8.2" fill="#303030">1</text>
<rect x="336.22" y="65.32" width="7.61" height="1.0" fill="#1b2a58"/>
<rect x="335.72" y="62.62" width="1" height="6.4" fill="#1b2a58"/>
<rect x="343.33" y="62.62" width="1" height="6.4" fill="#1b2a58"/>
<rect x="338.26" y="64.02" width="3.6" height="3.6" fill="#1b2a58"/>
<rect x="145.0" y="76.00" width="4" height="1" fill="#646464"/>
<text transform="translate(141.0,79.30) scale(1.09,1)" font-size="8.4" text-anchor="end" fill="#303030">Male</text>
<text transform="translate(0,79.10) scale(1.093,1)" x="367.06 372.98 377.55 379.82 384.38 387.11 391.68 396.24 400.34 404.90 407.17 409.90 412.18 417.65 422.21 426.31 428.59 430.72" font-size="8.2" fill="#303030">Reference - Sex | </text>
<text transform="translate(0,79.10) scale(1.093,1)" x="433.00" font-size="8.2" font-style="italic" fill="#303030">N</text>
<text transform="translate(0,79.10) scale(1.093,1)" x="437.73 440.01 444.80 447.08 451.64 456.20 458.48 463.04 467.60 472.16 474.44 476.57" font-size="8.2" fill="#303030"> = 29,995 | </text>
<text transform="translate(0,79.10) scale(1.093,1)" x="478.84" font-size="8.2" font-style="italic" fill="#303030">n</text>
<text transform="translate(0,79.10) scale(1.093,1)" x="482.22 484.49 489.28 491.56 496.12 500.68" font-size="8.2" fill="#303030"> = 730</text>
<rect x="315.80" y="73.40" width="6.2" height="6.2" fill="#72829a"/>
<rect x="145.0" y="86.68" width="4" height="1" fill="#646464"/>
<text transform="translate(141.0,89.98) scale(1.09,1)" font-size="8.4" text-anchor="end" fill="#303030">Female</text>
<text transform="translate(0,89.78) scale(1.093,1)" x="367.06 373.44 379.36 384.53 386.81 391.37 395.93 398.21 400.94 405.50 410.06 417.35 419.63 425.55 427.83 433.00 435.28 439.84 444.40 451.85 454.13 458.69 463.25 465.98 468.26 470.39" font-size="8.2" fill="#303030">OR .48 (95% CI .34–.64) | </text>
<text transform="translate(0,89.78) scale(1.093,1)" x="472.67" font-size="8.2" font-style="italic" fill="#303030">P</text>
<text transform="translate(0,89.78) scale(1.093,1)" x="476.95 479.23 484.01 486.29 490.85 493.13 497.69 502.25 507.95 513.12" font-size="8.2" fill="#303030"> = 2.65  0</text>
<text transform="translate(0,85.38) scale(1.093,1)" x="517.68 522.27" font-size="4.9" fill="#303030">−4</text>
<text transform="translate(0,89.78) scale(1.093,1)" x="524.99 527.27 529.40" font-size="8.2" fill="#303030"> | </text>
<text transform="translate(0,89.78) scale(1.093,1)" x="531.68" font-size="8.2" font-style="italic" fill="#303030">N</text>
<text transform="translate(0,89.78) scale(1.093,1)" x="536.41 538.69 543.48 545.75 550.31 554.88 557.15 564.61 569.17 571.44 573.57" font-size="8.2" fill="#303030"> = 23,45 | </text>
<text transform="translate(0,89.78) scale(1.093,1)" x="575.85" font-size="8.2" font-style="italic" fill="#303030">n</text>
<text transform="translate(0,89.78) scale(1.093,1)" x="579.22 581.50 586.29 588.57 593.13 597.69" font-size="8.2" fill="#303030"> = 835</text>
<text transform="translate(416.84,89.78) scale(0.787,1)" font-size="8.2" fill="#303030">1</text>
<text transform="translate(469.82,89.78) scale(0.787,1)" font-size="8.2" fill="#303030">1</text>
<text transform="translate(490.42,89.78) scale(0.787,1)" font-size="8.2" fill="#303030">1</text>
<text transform="translate(550.97,89.18) scale(1.093,1)" font-size="6.56" fill="#303030">×</text>
<text transform="translate(557.38,89.78) scale(0.787,1)" font-size="8.2" fill="#303030">1</text>
<text transform="translate(568.77,85.38) scale(0.787,1)" font-size="4.9" fill="#303030">1</text>
<text transform="translate(613.66,89.78) scale(0.787,1)" font-size="8.2" fill="#303030">1</text>
<rect x="325.69" y="86.68" width="4.69" height="1.0" fill="#1b2a58"/>
<rect x="325.19" y="83.98" width="1" height="6.4" fill="#1b2a58"/>
<rect x="329.87" y="83.98" width="1" height="6.4" fill="#1b2a58"/>
<rect x="324.99" y="84.18" width="6.0" height="6.0" fill="#1b2a58"/>
<rect x="145.0" y="97.36" width="4" height="1" fill="#646464"/>
<text transform="translate(141.0,100.66) scale(1.09,1)" font-size="8.4" text-anchor="end" fill="#303030">White</text>
<text transform="translate(0,100.46) scale(1.093,1)" x="367.06 372.98 377.55 379.82 384.38 387.11 391.68 396.24 400.34 404.90 407.17 409.90 412.18 417.65 420.38 424.94 429.50 434.06 436.34 440.90 443.18 447.74 452.30 454.12 458.22 460.50 465.06 467.79 472.35 476.91 481.47 483.75 485.88" font-size="8.2" fill="#303030">Reference - Broad ethnic group | </text>
<text transform="translate(0,100.46) scale(1.093,1)" x="488.16" font-size="8.2" font-style="italic" fill="#303030">N</text>
<text transform="translate(0,100.46) scale(1.093,1)" x="492.89 495.17 499.96 502.24 506.80 511.36 513.64 518.20 522.76 527.32 529.60 531.73" font-size="8.2" fill="#303030"> = 42,790 | </text>
<text transform="translate(0,100.46) scale(1.093,1)" x="534.01" font-size="8.2" font-style="italic" fill="#303030">n</text>
<text transform="translate(0,100.46) scale(1.093,1)" x="537.38 539.66 544.44 549.61 551.89 556.45 561.01" font-size="8.2" fill="#303030"> = ,450</text>
<text transform="translate(597.28,100.46) scale(0.787,1)" font-size="8.2" fill="#303030">1</text>
<rect x="315.15" y="94.11" width="7.5" height="7.5" fill="#72829a"/>
<rect x="145.0" y="108.04" width="4" height="1" fill="#646464"/>
<text transform="translate(141.0,111.34) scale(1.09,1)" font-size="8.4" text-anchor="end" fill="#303030">Other ethnicities</text>
<text transform="translate(0,111.14) scale(1.093,1)" x="367.06 373.44 379.36 381.64 386.20 388.48 393.04 397.60 399.88 402.61 407.17 411.73 419.02 421.30 427.22 429.50 431.78 436.34 438.62 443.18 447.74 452.30 456.86 459.14 463.70 468.26 470.99 473.27 475.40" font-size="8.2" fill="#303030">OR 0.79 (95% CI 0.62–0.99) | </text>
<text transform="translate(0,111.14) scale(1.093,1)" x="477.68" font-size="8.2" font-style="italic" fill="#303030">P</text>
<text transform="translate(0,111.14) scale(1.093,1)" x="481.95 484.23 489.02 491.30 495.86 498.14 502.70 507.26 512.95 518.12" font-size="8.2" fill="#303030"> = 4.40  0</text>
<text transform="translate(0,106.74) scale(1.093,1)" x="522.68 525.55" font-size="4.9" fill="#303030">−2</text>
<text transform="translate(0,111.14) scale(1.093,1)" x="528.27 530.55 532.68" font-size="8.2" fill="#303030"> | </text>
<text transform="translate(0,111.14) scale(1.093,1)" x="534.96" font-size="8.2" font-style="italic" fill="#303030">N</text>
<text transform="translate(0,111.14) scale(1.093,1)" x="539.69 541.97 546.76 549.03 553.60 555.87 560.43 564.99 569.55 571.83 573.96" font-size="8.2" fill="#303030"> = 4,490 | </text>
<text transform="translate(0,111.14) scale(1.093,1)" x="576.24" font-size="8.2" font-style="italic" fill="#303030">n</text>
<text transform="translate(0,111.14) scale(1.093,1)" x="579.61 581.89 586.68 588.96 593.52" font-size="8.2" fill="#303030"> = 75</text>
<text transform="translate(556.45,110.54) scale(1.093,1)" font-size="6.56" fill="#303030">×</text>
<text transform="translate(562.86,111.14) scale(0.787,1)" font-size="8.2" fill="#303030">1</text>
<rect x="307.81" y="108.04" width="10.85" height="1.0" fill="#1b2a58"/>
<rect x="307.31" y="105.34" width="1" height="6.4" fill="#1b2a58"/>
<rect x="318.17" y="105.34" width="1" height="6.4" fill="#1b2a58"/>
<rect x="311.78" y="106.89" width="3.3" height="3.3" fill="#1b2a58"/>
<rect x="145.0" y="118.72" width="4" height="1" fill="#646464"/>
<text transform="translate(141.0,122.02) scale(1.09,1)" font-size="8.4" text-anchor="end" fill="#303030">Not known</text>
<text transform="translate(0,121.82) scale(1.093,1)" x="367.06 373.44 379.36 381.64 386.20 388.48 393.04 397.60 399.88 402.61 407.17 411.73 419.02 421.30 427.22 429.50 431.78 436.34 438.62 443.18 447.74 452.30 456.86 459.14 463.70 468.26 470.99 473.27 475.40" font-size="8.2" fill="#303030">OR 0.55 (95% CI 0.39–0.77) | </text>
<text transform="translate(0,121.82) scale(1.093,1)" x="477.68" font-size="8.2" font-style="italic" fill="#303030">P</text>
<text transform="translate(0,121.82) scale(1.093,1)" x="481.95 484.23 489.02 491.30 495.86 498.14 502.70 507.26 512.95 518.12" font-size="8.2" fill="#303030"> = 5.75  0</text>
<text transform="translate(0,117.42) scale(1.093,1)" x="522.68 525.55" font-size="4.9" fill="#303030">−4</text>
<text transform="translate(0,121.82) scale(1.093,1)" x="528.27 530.55 532.68" font-size="8.2" fill="#303030"> | </text>
<text transform="translate(0,121.82) scale(1.093,1)" x="534.96" font-size="8.2" font-style="italic" fill="#303030">N</text>
<text transform="translate(0,121.82) scale(1.093,1)" x="539.69 541.97 546.76 549.03 553.60 558.76 563.32 567.89 570.16 572.29" font-size="8.2" fill="#303030"> = 6,30 | </text>
<text transform="translate(0,121.82) scale(1.093,1)" x="574.57" font-size="8.2" font-style="italic" fill="#303030">n</text>
<text transform="translate(0,121.82) scale(1.093,1)" x="577.94 580.22 585.01 587.29 591.85" font-size="8.2" fill="#303030"> = 35</text>
<text transform="translate(556.45,121.22) scale(1.093,1)" font-size="6.56" fill="#303030">×</text>
<text transform="translate(562.86,121.82) scale(0.787,1)" font-size="8.2" fill="#303030">1</text>
<text transform="translate(607.28,121.82) scale(0.787,1)" font-size="8.2" fill="#303030">1</text>
<rect x="297.06" y="118.72" width="15.78" height="1.0" fill="#1b2a58"/>
<rect x="296.56" y="116.02" width="1" height="6.4" fill="#1b2a58"/>
<rect x="312.34" y="116.02" width="1" height="6.4" fill="#1b2a58"/>
<rect x="303.39" y="117.57" width="3.3" height="3.3" fill="#1b2a58"/>
<rect x="145.0" y="129.40" width="4" height="1" fill="#646464"/>
<text transform="translate(141.0,132.70) scale(1.09,1)" font-size="8.4" text-anchor="end" fill="#303030">Quintile 1</text>
<text transform="translate(0,132.50) scale(1.093,1)" x="367.06 372.98 377.55 379.82 384.38 387.11 391.68 396.24 400.34 404.90 407.17 409.90 412.18 418.10 422.67 427.23 429.96 431.78 435.88 440.44 442.72 444.54 449.10 453.66 455.94 458.07" font-size="8.2" fill="#303030">Reference - Deprivation | </text>
<text transform="translate(0,132.50) scale(1.093,1)" x="460.35" font-size="8.2" font-style="italic" fill="#303030">N</text>
<text transform="translate(0,132.50) scale(1.093,1)" x="465.08 467.36 472.15 474.42 478.98 483.54 485.82 490.38 494.94 499.50 501.78 503.91" font-size="8.2" fill="#303030"> = 23,465 | </text>
<text transform="translate(0,132.50) scale(1.093,1)" x="506.19" font-size="8.2" font-style="italic" fill="#303030">n</text>
<text transform="translate(0,132.50) scale(1.093,1)" x="510.75 515.54 520.10 524.66" font-size="8.2" fill="#303030">=820</text>
<rect x="315.90" y="126.90" width="6.0" height="6.0" fill="#72829a"/>
<rect x="145.0" y="140.08" width="4" height="1" fill="#646464"/>
<text transform="translate(141.0,143.38) scale(1.09,1)" font-size="8.4" text-anchor="end" fill="#303030">Quintile 2</text>
<text transform="translate(0,143.18) scale(1.093,1)" x="367.06 373.44 379.36 381.64 386.20 388.48 395.93 398.21 400.94 405.50 410.06 417.35 419.63 425.55 427.83 430.11 434.67 436.95 441.51 446.07 453.52 455.80 460.36 464.92 467.65 469.93 472.06" font-size="8.2" fill="#303030">OR 0.9 (95% CI 0.80–.04) | </text>
<text transform="translate(0,143.18) scale(1.093,1)" x="474.34" font-size="8.2" font-style="italic" fill="#303030">P</text>
<text transform="translate(0,143.18) scale(1.093,1)" x="478.62 480.89 485.68 490.85 493.13 497.69 502.25 507.95 513.12" font-size="8.2" fill="#303030"> = .62  0</text>
<text transform="translate(0,138.78) scale(1.093,1)" x="517.68" font-size="4.9" fill="#303030">−</text>
<text transform="translate(0,143.18) scale(1.093,1)" x="522.27 524.54 526.67" font-size="8.2" fill="#303030"> | </text>
<text transform="translate(0,143.18) scale(1.093,1)" x="528.95" font-size="8.2" font-style="italic" fill="#303030">N</text>
<text transform="translate(0,143.18) scale(1.093,1)" x="533.68 535.96 540.75 545.92 550.48 552.76 557.32 561.88 566.44 568.72 570.85" font-size="8.2" fill="#303030"> = 0,250 | </text>
<text transform="translate(0,143.18) scale(1.093,1)" x="573.13" font-size="8.2" font-style="italic" fill="#303030">n</text>
<text transform="translate(0,143.18) scale(1.093,1)" x="576.50 578.78 583.56 585.84 590.40 594.96" font-size="8.2" fill="#303030"> = 330</text>
<text transform="translate(429.30,143.18) scale(0.787,1)" font-size="8.2" fill="#303030">1</text>
<text transform="translate(492.25,143.18) scale(0.787,1)" font-size="8.2" fill="#303030">1</text>
<text transform="translate(533.05,143.18) scale(0.787,1)" font-size="8.2" fill="#303030">1</text>
<text transform="translate(550.97,142.58) scale(1.093,1)" font-size="6.56" fill="#303030">×</text>
<text transform="translate(557.38,143.18) scale(0.787,1)" font-size="8.2" fill="#303030">1</text>
<text transform="translate(568.77,138.78) scale(0.787,1)" font-size="4.9" fill="#303030">1</text>
<text transform="translate(593.24,143.18) scale(0.787,1)" font-size="8.2" fill="#303030">1</text>
<rect x="313.73" y="140.08" width="6.08" height="1.0" fill="#4682b4"/>
<rect x="313.23" y="137.38" width="1" height="6.4" fill="#4682b4"/>
<rect x="319.31" y="137.38" width="1" height="6.4" fill="#4682b4"/>
<rect x="314.61" y="138.48" width="4.2" height="4.2" fill="#4682b4"/>
<rect x="145.0" y="150.76" width="4" height="1" fill="#646464"/>
<text transform="translate(141.0,154.06) scale(1.09,1)" font-size="8.4" text-anchor="end" fill="#303030">Quintile 3</text>
<text transform="translate(0,153.86) scale(1.093,1)" x="367.06 373.44 379.36 381.64 386.20 388.48 395.93 398.21 400.94 405.50 410.06 417.35 419.63 425.55 427.83 430.11 434.67 436.95 441.51 446.07 453.52 455.80 460.36 464.92 467.65 469.93 472.06" font-size="8.2" fill="#303030">OR 0.9 (95% CI 0.78–.06) | </text>
<text transform="translate(0,153.86) scale(1.093,1)" x="474.34" font-size="8.2" font-style="italic" fill="#303030">P</text>
<text transform="translate(0,153.86) scale(1.093,1)" x="478.62 480.89 485.68 487.96 492.52 494.80 499.36 503.92 509.62 514.78" font-size="8.2" fill="#303030"> = 2.35  0</text>
<text transform="translate(0,149.46) scale(1.093,1)" x="519.35" font-size="4.9" fill="#303030">−</text>
<text transform="translate(0,153.86) scale(1.093,1)" x="523.93 526.21 528.34" font-size="8.2" fill="#303030"> | </text>
<text transform="translate(0,153.86) scale(1.093,1)" x="530.62" font-size="8.2" font-style="italic" fill="#303030">N</text>
<text transform="translate(0,153.86) scale(1.093,1)" x="535.35 537.63 542.42 544.70 549.26 551.54 556.10 560.66 565.22 567.50 569.63" font-size="8.2" fill="#303030"> = 6,685 | </text>
<text transform="translate(0,153.86) scale(1.093,1)" x="571.91" font-size="8.2" font-style="italic" fill="#303030">n</text>
<text transform="translate(0,153.86) scale(1.093,1)" x="575.28 577.55 582.34 584.62 592.07" font-size="8.2" fill="#303030"> = 20</text>
<text transform="translate(429.30,153.86) scale(0.787,1)" font-size="8.2" fill="#303030">1</text>
<text transform="translate(492.25,153.86) scale(0.787,1)" font-size="8.2" fill="#303030">1</text>
<text transform="translate(552.80,153.26) scale(1.093,1)" font-size="6.56" fill="#303030">×</text>
<text transform="translate(559.21,153.86) scale(0.787,1)" font-size="8.2" fill="#303030">1</text>
<text transform="translate(570.60,149.46) scale(0.787,1)" font-size="4.9" fill="#303030">1</text>
<text transform="translate(643.68,153.86) scale(0.787,1)" font-size="8.2" fill="#303030">1</text>
<rect x="313.14" y="150.76" width="7.11" height="1.0" fill="#4682b4"/>
<rect x="312.64" y="148.06" width="1" height="6.4" fill="#4682b4"/>
<rect x="319.75" y="148.06" width="1" height="6.4" fill="#4682b4"/>
<rect x="314.81" y="149.36" width="3.8" height="3.8" fill="#4682b4"/>
<rect x="145.0" y="161.44" width="4" height="1" fill="#646464"/>
<text transform="translate(141.0,164.74) scale(1.09,1)" font-size="8.4" text-anchor="end" fill="#303030">Quintile 4</text>
<text transform="translate(0,164.54) scale(1.093,1)" x="367.06 373.44 379.36 381.64 386.20 388.48 393.04 397.60 399.88 402.61 407.17 411.73 419.02 421.30 427.22 429.50 431.78 436.34 438.62 443.18 447.74 452.30 456.86 459.14 463.70 468.26 470.99 473.27 475.40" font-size="8.2" fill="#303030">OR 0.75 (95% CI 0.62–0.89) | </text>
<text transform="translate(0,164.54) scale(1.093,1)" x="477.68" font-size="8.2" font-style="italic" fill="#303030">P</text>
<text transform="translate(0,164.54) scale(1.093,1)" x="481.95 484.23 489.02 494.19 496.47 503.92 509.62 514.78" font-size="8.2" fill="#303030"> = .4  0</text>
<text transform="translate(0,160.14) scale(1.093,1)" x="519.35 522.21" font-size="4.9" fill="#303030">−3</text>
<text transform="translate(0,164.54) scale(1.093,1)" x="524.93 527.21 529.34" font-size="8.2" fill="#303030"> | </text>
<text transform="translate(0,164.54) scale(1.093,1)" x="531.62" font-size="8.2" font-style="italic" fill="#303030">N</text>
<text transform="translate(0,164.54) scale(1.093,1)" x="536.35 538.63 543.42 545.70 550.26 552.53 557.10 561.66 566.22 568.49 570.62" font-size="8.2" fill="#303030"> = 5,360 | </text>
<text transform="translate(0,164.54) scale(1.093,1)" x="572.90" font-size="8.2" font-style="italic" fill="#303030">n</text>
<text transform="translate(0,164.54) scale(1.093,1)" x="576.27 578.55 583.34 588.51 593.07" font-size="8.2" fill="#303030"> = 45</text>
<text transform="translate(536.70,164.54) scale(0.787,1)" font-size="8.2" fill="#303030">1</text>
<text transform="translate(547.33,164.54) scale(0.787,1)" font-size="8.2" fill="#303030">1</text>
<text transform="translate(552.80,163.94) scale(1.093,1)" font-size="6.56" fill="#303030">×</text>
<text transform="translate(559.21,164.54) scale(0.787,1)" font-size="8.2" fill="#303030">1</text>
<text transform="translate(639.79,164.54) scale(0.787,1)" font-size="8.2" fill="#303030">1</text>
<rect x="307.81" y="161.44" width="8.38" height="1.0" fill="#1b2a58"/>
<rect x="307.31" y="158.74" width="1" height="6.4" fill="#1b2a58"/>
<rect x="315.70" y="158.74" width="1" height="6.4" fill="#1b2a58"/>
<rect x="310.33" y="160.04" width="3.8" height="3.8" fill="#1b2a58"/>
<rect x="145.0" y="172.12" width="4" height="1" fill="#646464"/>
<text transform="translate(141.0,175.42) scale(1.09,1)" font-size="8.4" text-anchor="end" fill="#303030">Quintile 5</text>
<text transform="translate(0,175.22) scale(1.093,1)" x="367.06 373.44 379.36 381.64 386.20 388.48 393.04 397.60 399.88 402.61 407.17 411.73 419.02 421.30 427.22 429.50 431.78 436.34 438.62 443.18 447.74 455.19 463.25 465.98 468.26 470.39" font-size="8.2" fill="#303030">OR 0.84 (95% CI 0.64–.) | </text>
<text transform="translate(0,175.22) scale(1.093,1)" x="472.67" font-size="8.2" font-style="italic" fill="#303030">P</text>
<text transform="translate(0,175.22) scale(1.093,1)" x="476.95 479.23 484.01 486.29 490.85 496.02 500.58 506.28 511.45" font-size="8.2" fill="#303030"> = 2.6  0</text>
<text transform="translate(0,170.82) scale(1.093,1)" x="516.01" font-size="4.9" fill="#303030">−</text>
<text transform="translate(0,175.22) scale(1.093,1)" x="520.60 522.87 525.00" font-size="8.2" fill="#303030"> | </text>
<text transform="translate(0,175.22) scale(1.093,1)" x="527.28" font-size="8.2" font-style="italic" fill="#303030">N</text>
<text transform="translate(0,175.22) scale(1.093,1)" x="532.01 534.29 539.08 541.36 545.92 548.20 555.65 560.21 562.49 564.62" font-size="8.2" fill="#303030"> = 2,00 | </text>
<text transform="translate(0,175.22) scale(1.093,1)" x="566.90" font-size="8.2" font-style="italic" fill="#303030">n</text>
<text transform="translate(0,175.22) scale(1.093,1)" x="570.27 572.55 577.34 579.61 584.17" font-size="8.2" fill="#303030"> = 60</text>
<text transform="translate(494.07,175.22) scale(0.787,1)" font-size="8.2" fill="#303030">1</text>
<text transform="translate(499.72,175.22) scale(0.787,1)" font-size="8.2" fill="#303030">1</text>
<text transform="translate(502.88,175.22) scale(0.787,1)" font-size="8.2" fill="#303030">1</text>
<text transform="translate(538.70,175.22) scale(0.787,1)" font-size="8.2" fill="#303030">1</text>
<text transform="translate(549.15,174.62) scale(1.093,1)" font-size="6.56" fill="#303030">×</text>
<text transform="translate(555.56,175.22) scale(0.787,1)" font-size="8.2" fill="#303030">1</text>
<text transform="translate(566.95,170.82) scale(0.787,1)" font-size="4.9" fill="#303030">1</text>
<text transform="translate(603.87,175.22) scale(0.787,1)" font-size="8.2" fill="#303030">1</text>
<rect x="308.55" y="172.12" width="12.77" height="1.0" fill="#4682b4"/>
<rect x="308.05" y="169.42" width="1" height="6.4" fill="#4682b4"/>
<rect x="320.82" y="169.42" width="1" height="6.4" fill="#4682b4"/>
<rect x="313.76" y="171.52" width="2.2" height="2.2" fill="#4682b4"/>
<rect x="145.0" y="182.80" width="4" height="1" fill="#646464"/>
<text transform="translate(141.0,186.10) scale(1.09,1)" font-size="8.4" text-anchor="end" fill="#303030">Unknown</text>
<text transform="translate(0,185.90) scale(1.093,1)" x="367.06 373.44 379.36 381.64 386.20 388.48 395.93 398.21 400.94 405.50 410.06 417.35 419.63 425.55 427.83 430.11 434.67 436.95 441.51 446.07 450.63 455.19 457.47 462.03 466.59 469.32 471.60 473.73" font-size="8.2" fill="#303030">OR 0.0 (95% CI 0.00–0.06) | </text>
<text transform="translate(0,185.90) scale(1.093,1)" x="476.01" font-size="8.2" font-style="italic" fill="#303030">P</text>
<text transform="translate(0,185.90) scale(1.093,1)" x="480.29 482.56 487.35 492.52 494.80 499.36 503.92 509.62 514.78" font-size="8.2" fill="#303030"> = .38  0</text>
<text transform="translate(0,181.50) scale(1.093,1)" x="519.35 522.21" font-size="4.9" fill="#303030">−6</text>
<text transform="translate(0,185.90) scale(1.093,1)" x="524.93 527.21 529.34" font-size="8.2" fill="#303030"> | </text>
<text transform="translate(0,185.90) scale(1.093,1)" x="531.62" font-size="8.2" font-style="italic" fill="#303030">N</text>
<text transform="translate(0,185.90) scale(1.093,1)" x="536.35 538.63 543.42 545.70 550.26 552.53 557.10 561.66 566.22 568.49 570.62" font-size="8.2" fill="#303030"> = 5,640 | </text>
<text transform="translate(0,185.90) scale(1.093,1)" x="572.90" font-size="8.2" font-style="italic" fill="#303030">n</text>
<text transform="translate(0,185.90) scale(1.093,1)" x="576.27 578.55 583.34 585.62 593.30" font-size="8.2" fill="#303030"> = &lt;0</text>
<text transform="translate(429.30,185.90) scale(0.787,1)" font-size="8.2" fill="#303030">1</text>
<text transform="translate(534.88,185.90) scale(0.787,1)" font-size="8.2" fill="#303030">1</text>
<text transform="translate(552.80,185.30) scale(1.093,1)" font-size="6.56" fill="#303030">×</text>
<text transform="translate(559.21,185.90) scale(0.787,1)" font-size="8.2" fill="#303030">1</text>
<text transform="translate(645.02,185.90) scale(0.787,1)" font-size="8.2" fill="#303030">1</text>
<rect x="160.40" y="182.80" width="91.80" height="1.0" fill="#1b2a58"/>
<rect x="159.90" y="180.10" width="1" height="6.4" fill="#1b2a58"/>
<rect x="251.70" y="180.10" width="1" height="6.4" fill="#1b2a58"/>
<rect x="204.90" y="181.70" width="3.2" height="3.2" fill="#1b2a58"/>
</g>
</svg>
</body></html>
